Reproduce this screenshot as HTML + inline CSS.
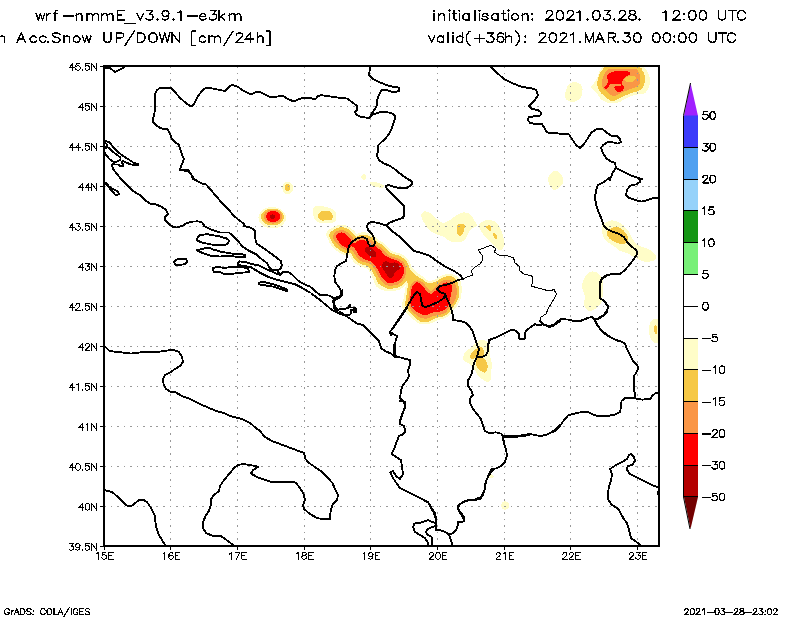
<!DOCTYPE html>
<html><head><meta charset="utf-8"><title>wrf-nmmE snow</title>
<style>
html,body{margin:0;padding:0;background:#fff;}
body{width:800px;height:618px;overflow:hidden;position:relative;font-family:"Liberation Sans",sans-serif;}
svg{position:absolute;left:0;top:0;display:block;}
text{font-family:"Liberation Sans",sans-serif;fill:#000;}
.bd{fill:none;stroke:#000;stroke-width:1.9;shape-rendering:crispEdges;stroke-linejoin:round;stroke-linecap:round;}
.th{fill:none;stroke:#000;stroke-width:1;shape-rendering:crispEdges;stroke-linejoin:round;}
.gr{stroke:#999;stroke-width:1;stroke-dasharray:1.6 4.96;fill:none;shape-rendering:crispEdges;}
</style></head><body>
<svg width="800" height="618" viewBox="0 0 800 618">
<title>wrf-nmmE_v3.9.1-e3km Acc.Snow UP/DOWN [cm/24h]</title>
<desc>wrf-nmmE_v3.9.1-e3km; Acc.Snow UP/DOWN [cm/24h]; initialisation: 2021.03.28. 12:00 UTC; valid(+36h): 2021.MAR.30 00:00 UTC; GrADS: COLA/IGES; 2021-03-28-23:02</desc>
<rect width="800" height="618" fill="#fff"/>
<defs><clipPath id="mc"><rect x="104" y="66" width="555" height="480"/></clipPath></defs>

<g clip-path="url(#mc)" shape-rendering="crispEdges">
<path d="M591.2,86.9 C591.3,85.4 593.2,84.2 594.4,82.5 C595.6,80.8 596.7,79.3 597.5,77.5 C598.3,75.7 598.1,74.1 598.8,72.5 C599.5,70.9 599.8,69.8 601.2,68.8 C602.6,67.8 599.1,67.2 606.2,66.9 C613.3,66.6 632.7,66.3 640,66.9 C647.3,67.5 644.5,68.3 646.2,70 C647.9,71.7 648.7,73.7 649.4,76.2 C650.1,78.7 650.1,81.3 649.8,83.8 C649.5,86.3 648.6,88.2 647.5,90 C646.4,91.8 645.6,93.0 643.8,93.8 C642.0,94.6 639.8,94.0 637.5,94.4 C635.2,94.8 633.5,95.4 631.2,96.2 C628.9,97.0 627.1,97.8 625,98.8 C622.9,99.8 622.1,101.1 620,101.9 C617.9,102.7 616.1,103.0 613.8,103.1 C611.5,103.2 609.8,103.2 607.5,102.5 C605.2,101.8 603.0,100.9 601.2,99.4 C599.4,97.9 598.9,96.0 597.5,94.4 C596.1,92.8 595.0,92.0 593.8,90.6 C592.6,89.2 591.1,88.4 591.2,86.9Z" fill="#fffdc8"/>
<path d="M597.2,85 C597.0,82.7 597.6,81.0 598.1,78.8 C598.6,76.6 599.1,74.9 600,73.1 C600.9,71.3 601.6,70.1 603.1,69 C604.6,67.9 601.8,67.4 608.1,67.1 C614.4,66.8 631.2,66.5 637.5,67.1 C643.8,67.7 641.2,68.9 642.5,70.6 C643.8,72.3 644.5,73.8 644.8,76.2 C645.1,78.6 644.9,81.5 644.4,83.8 C643.9,86.1 643.2,87.4 641.9,88.8 C640.6,90.2 639.5,90.4 637.5,91.2 C635.5,92.0 633.5,92.3 631.2,93.1 C628.9,93.9 627.3,94.6 625,95.6 C622.7,96.6 620.9,97.8 618.8,98.8 C616.7,99.8 615.5,100.8 613.8,101 C612.1,101.2 611.2,101.0 609.4,100 C607.6,99.0 605.6,97.2 603.8,95.6 C602.0,94.0 600.6,93.1 599.4,91.2 C598.2,89.3 597.4,87.3 597.2,85Z" fill="#f6c845"/>
<path d="M601.9,85 C601.8,83.3 602.1,80.7 602.5,78.8 C602.9,76.9 603.3,75.8 604.1,74.4 C604.9,73.0 605.7,72.0 606.9,71 C608.1,70.0 605.6,69.5 610.6,69.2 C615.6,68.9 629.4,68.8 634.4,69.2 C639.4,69.6 637.0,70.3 638.1,71.5 C639.2,72.7 639.9,73.9 640.2,76 C640.5,78.1 640.3,80.9 639.8,82.8 C639.3,84.7 638.7,85.5 637.5,86.5 C636.3,87.5 634.8,87.6 633.1,88.2 C631.5,88.8 630.3,89.1 628.5,89.8 C626.7,90.5 625.3,91.1 623.5,91.9 C621.7,92.7 620.2,93.6 618.5,94.4 C616.8,95.2 615.4,95.9 614,96 C612.6,96.1 612.0,95.9 610.6,95 C609.2,94.1 608.0,92.4 606.6,91.2 C605.2,90.0 604.0,89.3 603.1,88.2 C602.2,87.1 602.0,86.7 601.9,85Z" fill="#fa9646"/>
<path d="M606.9,76.2 C607.1,74.7 607.9,74.0 609.4,73.1 C610.9,72.2 612.6,71.7 615,71.2 C617.4,70.7 619.9,70.5 622.5,70.6 C625.1,70.7 628.0,71.2 629.4,71.9 C630.8,72.6 630.7,73.5 630,74.4 C629.3,75.3 626.9,75.9 625.6,76.9 C624.3,77.9 623.8,78.7 623.1,80 C622.4,81.3 621.8,82.5 621.9,83.8 C622.0,85.1 623.6,85.8 623.8,86.9 C624.0,88.0 623.8,89.1 623.1,90 C622.4,90.9 621.3,91.7 620,91.9 C618.7,92.1 617.2,91.9 616.2,91.2 C615.2,90.5 614.6,89.1 614.4,88.1 C614.2,87.1 613.9,86.5 615,86 C616.1,85.5 619.6,85.9 620.6,85.6 C621.6,85.3 622.5,84.6 620.6,84.4 C618.7,84.2 612.3,83.7 610,84.4 C607.7,85.1 609.2,87.4 608.1,88.1 C607.0,88.8 604.1,88.7 603.8,88.1 C603.5,87.5 605.4,86.3 606.2,85 C607.0,83.7 608.0,82.8 608.1,81.2 C608.2,79.6 606.7,77.7 606.9,76.2Z" fill="#ff0000"/>
<path d="M624.4,78.8 C624.8,78.1 625.5,77.5 626.9,76.9 C628.3,76.3 630.4,75.7 631.9,75.6 C633.4,75.5 634.2,75.7 635,76.2 C635.8,76.7 636.1,77.3 636,78.1 C635.9,78.9 635.4,79.8 634.4,80.6 C633.4,81.4 632.0,81.9 630.6,82.2 C629.2,82.5 628.0,82.5 626.9,82.2 C625.8,81.9 625.3,81.2 624.8,80.6 C624.3,80.0 624.0,79.5 624.4,78.8Z" fill="#f6c845"/>
<path d="M565,96.2 C564.9,94.4 565.5,92.2 566.2,90 C566.9,87.8 567.5,85.8 568.8,84.4 C570.1,83.0 571.3,82.4 573.1,82.2 C574.9,82.0 577.2,82.4 578.8,83.1 C580.4,83.8 581.2,84.5 581.9,86.2 C582.6,87.9 582.7,90.4 582.5,92.5 C582.3,94.6 581.8,95.9 580.6,97.5 C579.4,99.1 577.9,100.4 576.2,101.2 C574.5,102.0 572.9,102.1 571.2,101.9 C569.5,101.7 568.0,101.0 566.9,100 C565.8,99.0 565.1,98.0 565,96.2Z" fill="#fffdc8"/>
<path d="M293,188 C293.0,189.2 292.8,190.2 292.3,191.2 C291.8,192.2 291.2,192.9 290.4,193.5 C289.6,194.1 288.7,194.4 287.7,194.4 C286.7,194.4 285.9,194.1 285.1,193.5 C284.3,192.9 283.6,192.2 283.1,191.2 C282.6,190.2 282.4,189.2 282.4,188 C282.4,186.8 282.6,185.8 283.1,184.8 C283.6,183.8 284.3,183.1 285.1,182.5 C285.9,181.9 286.7,181.6 287.7,181.6 C288.7,181.6 289.6,181.9 290.4,182.5 C291.2,183.1 291.8,183.8 292.3,184.8 C292.8,185.8 293.0,186.8 293,188Z" fill="#fffdc8"/>
<path d="M290.4,187.3 C290.4,188.0 290.3,188.6 290,189.2 C289.7,189.8 289.4,190.2 288.9,190.5 C288.4,190.8 288.0,191.0 287.5,191 C287.0,191.0 286.6,190.8 286.1,190.5 C285.6,190.2 285.3,189.8 285,189.2 C284.7,188.6 284.6,188.0 284.6,187.3 C284.6,186.6 284.7,186.0 285,185.4 C285.3,184.8 285.6,184.4 286.1,184.1 C286.6,183.8 287.0,183.6 287.5,183.6 C288.0,183.6 288.4,183.8 288.9,184.1 C289.4,184.4 289.7,184.8 290,185.4 C290.3,186.0 290.4,186.6 290.4,187.3Z" fill="#f6c845"/>
<path d="M286,217.7 C286.0,219.7 285.5,221.4 284.2,223.1 C282.9,224.8 281.3,226.0 279.1,227 C276.9,228.0 274.7,228.4 272.2,228.4 C269.7,228.4 267.5,228.0 265.3,227 C263.1,226.0 261.5,224.8 260.2,223.1 C258.9,221.4 258.4,219.7 258.4,217.7 C258.4,215.7 258.9,214.0 260.2,212.3 C261.5,210.6 263.1,209.4 265.3,208.4 C267.5,207.4 269.7,207.0 272.2,207 C274.7,207.0 276.9,207.4 279.1,208.4 C281.3,209.4 282.9,210.6 284.2,212.3 C285.5,214.0 286.0,215.7 286,217.7Z" fill="#fffdc8"/>
<path d="M284,217 C284.0,218.5 283.6,219.9 282.5,221.2 C281.4,222.5 280.0,223.5 278.2,224.3 C276.4,225.1 274.6,225.4 272.5,225.4 C270.4,225.4 268.6,225.1 266.8,224.3 C265.0,223.5 263.6,222.5 262.5,221.2 C261.4,219.9 261.0,218.5 261,217 C261.0,215.5 261.4,214.1 262.5,212.8 C263.6,211.5 265.0,210.5 266.8,209.7 C268.6,208.9 270.4,208.6 272.5,208.6 C274.6,208.6 276.4,208.9 278.2,209.7 C280.0,210.5 281.4,211.5 282.5,212.8 C283.6,214.1 284.0,215.5 284,217Z" fill="#f6c845"/>
<path d="M282.4,216.6 C282.4,217.9 282.0,219.0 281.1,220.1 C280.2,221.2 279.2,222.1 277.7,222.7 C276.2,223.3 274.7,223.6 273,223.6 C271.3,223.6 269.8,223.3 268.3,222.7 C266.8,222.1 265.8,221.2 264.9,220.1 C264.0,219.0 263.6,217.9 263.6,216.6 C263.6,215.3 264.0,214.2 264.9,213.1 C265.8,212.0 266.8,211.1 268.3,210.5 C269.8,209.9 271.3,209.6 273,209.6 C274.7,209.6 276.2,209.9 277.7,210.5 C279.2,211.1 280.2,212.0 281.1,213.1 C282.0,214.2 282.4,215.3 282.4,216.6Z" fill="#fa9646"/>
<path d="M280.4,216.5 C280.4,217.5 280.1,218.3 279.4,219.2 C278.7,220.1 277.9,220.8 276.8,221.3 C275.7,221.8 274.5,222.0 273.2,222 C271.9,222.0 270.7,221.8 269.6,221.3 C268.5,220.8 267.7,220.1 267,219.2 C266.3,218.3 266.0,217.5 266,216.5 C266.0,215.5 266.3,214.7 267,213.8 C267.7,212.9 268.5,212.2 269.6,211.7 C270.7,211.2 271.9,211.0 273.2,211 C274.5,211.0 275.7,211.2 276.8,211.7 C277.9,212.2 278.7,212.9 279.4,213.8 C280.1,214.7 280.4,215.5 280.4,216.5Z" fill="#ff0000"/>
<path d="M275.2,216.8 C275.2,217.2 275.1,217.6 274.9,218 C274.7,218.4 274.3,218.7 273.9,218.9 C273.5,219.1 273.1,219.2 272.6,219.2 C272.1,219.2 271.7,219.1 271.3,218.9 C270.9,218.7 270.5,218.4 270.3,218 C270.1,217.6 270.0,217.2 270,216.8 C270.0,216.4 270.1,216.0 270.3,215.6 C270.5,215.2 270.9,214.9 271.3,214.7 C271.7,214.5 272.1,214.4 272.6,214.4 C273.1,214.4 273.5,214.5 273.9,214.7 C274.3,214.9 274.7,215.2 274.9,215.6 C275.1,216.0 275.2,216.4 275.2,216.8Z" fill="#b40000"/>
<path d="M313,213 C312.8,210.6 312.9,208.4 314,207 C315.1,205.6 316.4,205.5 319,205.6 C321.6,205.7 325.2,206.8 328,207.6 C330.8,208.4 332.5,208.5 334,210 C335.5,211.5 336.2,213.9 336.4,216 C336.6,218.1 336.4,220.3 335,221.6 C333.6,222.9 331.8,222.7 329,223 C326.2,223.3 322.6,223.6 320,223 C317.4,222.4 316.3,221.8 315,220 C313.7,218.2 313.2,215.4 313,213Z" fill="#fffdc8"/>
<path d="M318,216 C318.0,214.5 318.7,213.0 320,212 C321.3,211.0 323.2,210.7 325,210.6 C326.8,210.5 328.5,210.7 330,211.6 C331.5,212.5 332.7,214.1 333,215.6 C333.3,217.1 332.9,218.7 331.6,219.6 C330.3,220.5 328.1,220.3 326,220.4 C323.9,220.5 321.5,220.8 320,220 C318.5,219.2 318.0,217.5 318,216Z" fill="#f6c845"/>
<path d="M366.4,177 C366.4,177.5 366.3,177.9 366.1,178.3 C365.9,178.7 365.5,179.1 365.1,179.3 C364.7,179.5 364.3,179.6 363.8,179.6 C363.3,179.6 362.9,179.5 362.5,179.3 C362.1,179.1 361.7,178.7 361.5,178.3 C361.3,177.9 361.2,177.5 361.2,177 C361.2,176.5 361.3,176.1 361.5,175.7 C361.7,175.3 362.1,174.9 362.5,174.7 C362.9,174.5 363.3,174.4 363.8,174.4 C364.3,174.4 364.7,174.5 365.1,174.7 C365.5,174.9 365.9,175.3 366.1,175.7 C366.3,176.1 366.4,176.5 366.4,177Z" fill="#fffdc8"/>
<path d="M369.6,182.4 C369.7,181.7 371.5,181.5 373,181.6 C374.5,181.7 376.1,182.1 378,182.8 C379.9,183.5 382.8,184.3 383.6,185.2 C384.4,186.1 383.4,187.2 382.4,187.6 C381.4,188.0 379.8,187.6 378,187.2 C376.2,186.8 373.9,186.5 372.4,185.6 C370.9,184.7 369.5,183.1 369.6,182.4Z" fill="#fffdc8"/>
<path d="M328,239.1 L329.2,242.3 L331,245.1 L333.9,248.3 L337.3,251.2 L340.8,253.6 L343.9,255 L346.2,255.4 L349.4,255.3 L352.4,260.2 L354.3,262.5 L356.2,264.1 L360.2,266.4 L362.7,267.3 L366.2,268 L368.1,269.3 L371.2,274.3 L375.3,285 L376.8,286.9 L378.7,288.4 L382,290 L385.9,291 L388.6,291.1 L395.7,290.6 L398.6,289.9 L400.7,289 L403.3,287.4 L405.8,285 L403.7,298.8 L402,303 L401.8,305.2 L402.1,307 L404.3,311.1 L408,315 L416.9,322.3 L418.8,323.6 L421.3,324.3 L423.3,324.5 L427.5,324.2 L432.1,322.8 L438.1,319.9 L444.2,318.4 L447,317.3 L448.6,316.3 L450.4,314.6 L452.2,311.7 L456.3,307 L458.7,303.1 L460.5,299.1 L461.3,296.1 L461.7,289.6 L461.5,285.6 L460.4,280.7 L459.5,278.7 L458,277 L454.3,274.8 L450.3,273.7 L446.8,274 L441,275.9 L435.2,279.4 L433,280.3 L430.3,280.9 L427.7,280.5 L422,276 L417,272.8 L415.1,271.1 L411.4,266.5 L410.4,263.4 L408.7,260.5 L406.1,257.4 L403.7,255.5 L400.1,253.6 L394.3,251.9 L391.1,250.4 L384.1,243.4 L382.1,241.9 L378.9,240.2 L376,237.1 L373.1,235.1 L367.5,232.8 L364.7,232.2 L360.5,232.5 L356.5,233.9 L354,230.9 L351.1,228.3 L348.6,226.7 L345.8,225.5 L341.5,225 L336.7,225.6 L334,226.6 L329,229.7 L326.7,232.1 L326,234 L326.4,236Z" fill="#fffdc8"/>
<path d="M330.2,238.1 L331,240.6 L332.8,243.7 L335.5,246.7 L338.6,249.3 L341.9,251.6 L344.6,252.8 L346.3,253.1 L349.3,253 L350.8,253.2 L354.2,258.8 L357.6,262.3 L361.1,264.3 L367,265.9 L369.3,267.3 L371.1,269.3 L372.8,272.2 L376.2,278.8 L377.4,282.1 L378.7,283.8 L381,285.7 L385.1,287.8 L387.4,288.5 L390,288.7 L395.6,288.3 L398.3,287.6 L401.7,285.7 L403.9,283.8 L406.2,280.9 L408.5,284.5 L407.4,288.7 L405.9,299.4 L405,302 L404.9,303.9 L405.3,305.4 L406.5,307.9 L410.3,313 L415.6,317.6 L418.1,320.2 L420,321.4 L423.4,322.2 L425.7,322.2 L428.2,321.7 L430.6,320.8 L436,317.9 L442.6,316.5 L446,315.3 L448.6,313.1 L450.4,310.3 L454.4,305.6 L456.6,302.1 L458.3,298.3 L459,295.8 L459.3,291.7 L459.1,288.6 L457.2,280.8 L456,279 L453.4,276.9 L450,276 L447.4,276.2 L442,278 L436.2,281.5 L432.6,282.8 L429.2,283.2 L426.8,282.6 L423,279.8 L416.2,275.7 L413,273 L409.3,267.9 L408.7,265.3 L407,262 L404.5,259 L402.5,257.5 L398.3,255.3 L393.5,254.1 L389.9,252.4 L388.3,251.1 L382.6,245.1 L377.4,242 L374.5,238.9 L372.1,237.2 L366.8,235 L363.6,234.5 L361.7,234.6 L359.1,235.2 L356.1,237 L351.3,231.5 L348.6,229.4 L345.4,227.8 L342.8,227.3 L340.2,227.3 L337.1,227.9 L334.2,229.2 L330.5,232.2 L329.5,233.6 L329,235.7Z" fill="#f6c845"/>
<path d="M333.1,236.2 C333.2,234.8 333.8,233.5 334.8,232.5 C335.8,231.5 337.0,230.9 338.8,230.6 C340.6,230.3 342.5,230.0 344.4,230.6 C346.3,231.2 347.8,232.4 349.4,233.8 C351.0,235.2 352.0,236.9 353.1,238.1 C354.2,239.3 354.3,240.6 355.6,240.6 C356.9,240.6 358.4,238.7 360,238.1 C361.6,237.5 362.9,237.4 364.4,237.5 C365.9,237.6 366.7,238.2 368.1,238.8 C369.5,239.4 370.5,239.6 371.9,240.6 C373.3,241.6 374.1,243.2 375.6,244.4 C377.1,245.6 378.5,245.8 380,246.9 C381.5,248.0 382.4,249.2 383.8,250.6 C385.2,252.0 385.9,253.2 387.5,254.4 C389.1,255.6 390.6,256.1 392.5,256.9 C394.4,257.7 396.2,257.6 398.1,258.5 C400.0,259.4 401.6,260.2 403.1,261.9 C404.6,263.5 405.7,265.3 406.2,267.5 C406.7,269.7 406.6,271.5 406,273.8 C405.4,276.1 404.5,278.1 403.1,280 C401.7,281.9 400.2,283.4 398.1,284.4 C396.0,285.4 394.1,285.5 391.9,285.6 C389.7,285.7 388.2,285.9 386.2,285 C384.2,284.1 382.8,282.4 381.2,280.6 C379.6,278.8 378.6,276.9 377.5,275 C376.4,273.1 376.0,271.7 375,270 C374.0,268.3 373.2,266.9 371.9,265.6 C370.6,264.3 369.7,263.8 368.1,263.1 C366.5,262.4 364.8,262.6 363.1,261.9 C361.4,261.2 360.2,260.6 358.8,259.4 C357.4,258.2 356.6,257.1 355.6,255.6 C354.6,254.1 354.1,252.2 353.1,251.2 C352.1,250.2 351.4,250.2 350,250 C348.6,249.8 347.2,250.5 345.6,250 C344.0,249.5 342.8,248.6 341.2,247.5 C339.6,246.4 338.2,245.2 336.9,243.8 C335.6,242.4 334.7,241.4 334,240 C333.3,238.6 333.0,237.6 333.1,236.2Z" fill="#fa9646"/>
<path d="M408.3,302 C408.1,299.2 408.8,296.3 409.2,293.3 C409.6,290.3 409.7,287.7 410.7,285.5 C411.7,283.3 413.0,282.1 414.6,281.2 C416.2,280.3 417.7,280.3 419.4,280.7 C421.1,281.1 422.4,282.3 423.8,283.6 C425.2,284.9 426.0,286.7 427.2,288 C428.4,289.3 429.4,290.7 430.6,290.9 C431.8,291.1 432.7,290.1 434,288.9 C435.3,287.7 436.3,286.1 437.9,284.6 C439.5,283.1 440.8,281.6 442.7,280.7 C444.6,279.8 446.5,279.5 448.5,279.7 C450.5,279.9 452.0,280.5 453.4,281.7 C454.8,282.9 455.7,284.2 456.3,286.5 C456.9,288.8 457.1,291.8 456.8,294.3 C456.5,296.8 455.8,298.1 454.9,300.1 C454.0,302.1 453.1,303.4 451.9,305 C450.7,306.6 449.7,307.4 448.5,308.8 C447.3,310.2 447.2,311.6 445.6,312.7 C444.0,313.8 442.1,314.1 439.8,314.7 C437.5,315.3 435.4,315.4 433,316.1 C430.6,316.8 429.0,318.2 426.7,318.5 C424.4,318.8 422.6,318.5 420.4,317.6 C418.2,316.7 416.5,315.3 414.6,313.7 C412.7,312.1 411.4,310.9 410.2,308.8 C409.0,306.7 408.5,304.8 408.3,302Z" fill="#fa9646"/>
<path d="M336.2,236.2 C336.2,235.1 336.7,234.5 337.5,233.8 C338.3,233.1 339.3,232.6 340.6,232.5 C341.9,232.4 343.1,232.5 344.4,233.1 C345.7,233.7 346.4,234.4 347.5,235.6 C348.6,236.8 349.7,238.0 350.6,239.4 C351.5,240.8 351.6,242.5 352.5,243.1 C353.4,243.7 354.4,243.0 355.6,242.5 C356.8,242.0 357.4,241.1 358.8,240.6 C360.2,240.1 361.6,239.9 363.1,240 C364.6,240.1 365.6,240.4 366.9,241.2 C368.2,242.0 368.5,243.5 370,244.4 C371.5,245.3 373.4,245.4 375,246.2 C376.6,247.0 377.4,247.6 378.8,248.8 C380.2,250.0 381.1,251.1 382.5,252.5 C383.9,253.9 384.5,255.0 386.2,256.2 C387.9,257.4 389.8,258.0 391.9,258.8 C394.0,259.6 395.7,259.7 397.5,260.6 C399.3,261.5 400.7,262.3 401.9,263.8 C403.1,265.3 403.7,267.0 404,268.8 C404.3,270.6 404.1,272.0 403.5,273.8 C402.9,275.6 401.9,277.3 400.6,278.8 C399.3,280.3 397.9,281.1 396.2,281.9 C394.5,282.7 392.9,283.0 391.2,283.1 C389.5,283.2 388.4,283.3 386.9,282.5 C385.4,281.7 384.4,280.3 383.1,278.8 C381.8,277.3 381.0,276.1 380,274.4 C379.0,272.7 378.5,271.2 377.5,269.4 C376.5,267.6 375.8,265.9 374.4,264.4 C373.0,262.9 371.7,262.1 370,261.2 C368.3,260.3 366.7,260.2 365,259.4 C363.3,258.6 362.0,258.1 360.6,256.9 C359.2,255.7 358.5,254.6 357.5,253.1 C356.5,251.6 356.0,250.1 355,248.8 C354.0,247.5 353.2,246.3 351.9,246.2 C350.6,246.1 349.5,248.0 348.1,248.1 C346.7,248.2 345.8,247.7 344.4,246.9 C343.0,246.1 341.9,245.1 340.6,243.8 C339.3,242.5 338.3,241.4 337.5,240 C336.7,238.6 336.2,237.3 336.2,236.2Z" fill="#ff0000"/>
<path d="M410.2,302 C410.0,299.6 410.4,297.1 410.7,294.3 C411.0,291.5 411.1,288.6 412.1,286.5 C413.1,284.4 414.7,283.2 416,282.6 C417.3,282.0 418.2,282.5 419.4,283.1 C420.6,283.7 421.6,284.7 422.8,286 C424.0,287.3 424.9,289.0 426.2,290.4 C427.5,291.8 428.8,293.5 430.1,293.8 C431.4,294.1 432.2,293.2 433.5,292.3 C434.8,291.4 436.1,290.2 437.4,288.9 C438.7,287.6 439.3,286.2 440.8,285 C442.3,283.8 444.0,282.9 445.6,282.6 C447.2,282.3 448.3,282.5 449.5,283.1 C450.7,283.7 451.5,284.3 451.9,286 C452.3,287.7 451.8,289.9 451.5,292.3 C451.2,294.7 450.6,296.6 450,299.1 C449.4,301.6 449.1,303.9 448.1,305.9 C447.1,307.9 446.4,308.7 444.7,309.8 C443.0,310.9 441.1,311.2 438.8,311.7 C436.5,312.2 434.3,312.1 432,312.7 C429.7,313.3 428.2,314.8 426.2,315.1 C424.2,315.4 422.9,315.0 420.9,314.2 C418.9,313.4 417.2,312.0 415.5,310.8 C413.8,309.6 412.7,309.0 411.7,307.4 C410.7,305.8 410.4,304.4 410.2,302Z" fill="#ff0000"/>
<path d="M365.6,248.1 C366.1,247.3 367.1,246.9 368.1,246.9 C369.1,246.9 370.2,247.4 371.2,248.1 C372.2,248.8 372.9,249.7 373.8,250.6 C374.7,251.5 375.8,252.1 376.2,253.1 C376.6,254.1 376.6,255.4 376.2,256.2 C375.8,257.0 374.8,257.5 373.8,257.5 C372.8,257.5 371.8,256.8 370.6,256.2 C369.4,255.6 368.5,255.3 367.5,254.4 C366.5,253.5 365.5,252.4 365.2,251.2 C364.9,250.0 365.1,248.9 365.6,248.1Z" fill="#b40000"/>
<path d="M382.5,263.8 C383.0,262.8 384.0,261.5 385,261.2 C386.0,260.9 387.0,261.6 388.1,261.9 C389.2,262.2 389.9,263.0 391.2,263.1 C392.5,263.2 393.6,262.3 395,262.5 C396.4,262.7 397.9,263.5 398.8,264.4 C399.7,265.3 400.1,266.5 400,267.5 C399.9,268.5 399.0,269.2 398.1,270 C397.2,270.8 395.8,271.0 395,271.9 C394.2,272.8 394.4,273.9 393.8,275 C393.2,276.1 392.8,277.6 391.9,278.1 C391.0,278.6 389.8,278.3 388.8,277.5 C387.8,276.7 387.1,275.2 386.2,273.8 C385.3,272.4 384.5,271.3 383.8,270 C383.1,268.7 382.4,268.0 382.2,266.9 C382.0,265.8 382.0,264.8 382.5,263.8Z" fill="#b40000"/>
<path d="M421,216 C420.8,213.7 422.4,212.2 424,211.6 C425.6,211.0 427.6,211.6 430,213 C432.4,214.4 434.6,217.2 437,219 C439.4,220.8 440.6,222.8 443,223 C445.4,223.2 447.4,221.5 450,220 C452.6,218.5 454.6,216.4 457,215 C459.4,213.6 460.6,212.6 463,212.4 C465.4,212.2 468.0,212.6 470,214 C472.0,215.4 472.7,218.0 474,220 C475.3,222.0 477.2,223.5 477,225 C476.8,226.5 474.5,226.7 473,228 C471.5,229.3 470.3,230.2 469,232 C467.7,233.8 467.3,236.2 466,238 C464.7,239.8 464.6,240.9 462,241.6 C459.4,242.3 455.3,242.8 452,242 C448.7,241.2 446.9,238.5 444,237 C441.1,235.5 438.8,235.3 436,234 C433.2,232.7 431.0,231.8 429,230 C427.0,228.2 426.5,226.6 425,224 C423.5,221.4 421.2,218.3 421,216Z" fill="#fffdc8"/>
<path d="M457,226 C457.6,224.5 458.6,224.3 460,224 C461.4,223.7 463.6,223.5 464.4,224.4 C465.2,225.3 464.8,227.2 464.4,229 C464.0,230.8 463.4,232.7 462.4,234 C461.4,235.3 460.0,236.4 459,236 C458.0,235.6 457.4,233.8 457,232 C456.6,230.2 456.4,227.5 457,226Z" fill="#f6c845"/>
<path d="M479,225 C479.7,223.5 482.0,221.9 484,221 C486.0,220.1 487.6,219.6 490,220 C492.4,220.4 495.0,221.2 497,223 C499.0,224.8 499.8,227.2 501,230 C502.2,232.8 503.1,235.1 503.6,238 C504.2,240.9 504.5,243.8 504,246 C503.5,248.2 502.3,249.4 501,250 C499.7,250.6 498.5,250.1 497,249 C495.5,247.9 494.6,245.7 493,244 C491.4,242.3 489.8,241.8 488,240 C486.2,238.2 484.5,236.0 483,234 C481.5,232.0 480.7,230.7 480,229 C479.3,227.3 478.3,226.5 479,225Z" fill="#fffdc8"/>
<path d="M486,227 C486.2,226.2 488.1,225.0 489,225 C489.9,225.0 490.6,225.9 491,227 C491.4,228.1 491.6,230.5 491,231 C490.4,231.5 488.9,230.3 488,229.6 C487.1,228.9 485.8,227.8 486,227Z" fill="#f6c845"/>
<path d="M493,234 C493.1,233.1 494.3,232.6 495,233 C495.7,233.4 496.6,234.9 497,236 C497.4,237.1 497.5,238.6 497,239 C496.5,239.4 495.1,238.9 494.4,238 C493.7,237.1 492.9,234.9 493,234Z" fill="#f6c845"/>
<path d="M548,178 C548.2,175.6 549.5,174.3 551,173 C552.5,171.7 554.4,171.0 556,171 C557.6,171.0 558.7,171.7 560,173 C561.3,174.3 562.6,176.0 563,178 C563.4,180.0 563.1,182.2 562.4,184 C561.7,185.8 560.5,186.5 559,187.6 C557.5,188.7 555.6,190.3 554,190 C552.4,189.7 551.1,188.2 550,186 C548.9,183.8 547.8,180.4 548,178Z" fill="#fffdc8"/>
<path d="M601.6,228 C601.8,225.2 603.1,224.4 605,223 C606.9,221.6 609.2,220.4 612,220.4 C614.8,220.4 617.4,221.6 620,223 C622.6,224.4 624.2,226.0 626,228 C627.8,230.0 628.5,231.6 630,234 C631.5,236.4 632.2,238.8 634,241 C635.8,243.2 637.4,244.5 640,246 C642.6,247.5 645.2,247.5 648,249 C650.8,250.5 653.5,252.2 655,254 C656.5,255.8 656.9,257.6 656,259 C655.1,260.4 652.6,261.2 650,261.6 C647.4,262.0 644.9,261.8 642,261 C639.1,260.2 636.8,258.5 634,257 C631.2,255.5 629.6,254.1 627,253 C624.4,251.9 622.2,252.1 620,251 C617.8,249.9 617.0,248.5 615,247 C613.0,245.5 611.0,244.7 609,243 C607.0,241.3 605.4,240.8 604,238 C602.6,235.2 601.4,230.8 601.6,228Z" fill="#fffdc8"/>
<path d="M606.4,234 C606.2,232.3 607.6,231.3 609,230 C610.4,228.7 612.0,227.4 614,227 C616.0,226.6 618.0,227.1 620,228 C622.0,228.9 623.5,230.2 625,232 C626.5,233.8 628.0,236.1 628.4,238 C628.8,239.9 628.2,241.3 627,242.4 C625.8,243.5 624.0,244.0 622,244 C620.0,244.0 618.2,243.3 616,242.4 C613.8,241.5 611.8,240.5 610,239 C608.2,237.5 606.6,235.7 606.4,234Z" fill="#f6c845"/>
<path d="M582,288 C581.8,284.9 582.9,281.8 584,279 C585.1,276.2 586.2,274.4 588,273 C589.8,271.6 591.8,271.2 594,271.6 C596.2,272.0 598.4,273.0 600,275 C601.6,277.0 602.6,278.2 603,282.4 C603.4,286.6 603.1,293.7 602.4,298 C601.7,302.3 600.9,303.7 599,306 C597.1,308.3 594.2,309.7 592,310.4 C589.8,311.1 588.5,311.2 587,310 C585.5,308.8 584.4,306.6 584,304 C583.6,301.4 585.4,298.9 585,296 C584.6,293.1 582.2,291.1 582,288Z" fill="#fffdc8"/>
<path d="M649,329 C649.0,326.4 649.1,324.8 650,323 C650.9,321.2 652.4,319.6 654,319 C655.6,318.4 657.5,319.1 659,320 C660.5,320.9 661.5,320.3 662,324 C662.5,327.7 662.5,336.6 662,340 C661.5,343.4 660.5,342.0 659,342.4 C657.5,342.8 655.6,343.4 654,342.4 C652.4,341.4 650.9,339.5 650,337 C649.1,334.5 649.0,331.6 649,329Z" fill="#fffdc8"/>
<path d="M654.4,326.4 C654.7,324.9 655.9,324.9 656.4,325.6 C656.9,326.3 657.1,328.5 657.2,330 C657.3,331.5 657.2,333.3 656.8,334 C656.4,334.7 655.2,335.0 654.8,333.6 C654.4,332.2 654.1,327.9 654.4,326.4Z" fill="#f6c845"/>
<path d="M463,357 C463.4,355.2 464.4,352.8 466,351 C467.6,349.2 470.0,348.6 472,347 C474.0,345.4 475.2,343.3 477,342 C478.8,340.7 480.0,340.0 482,340 C484.0,340.0 486.5,340.5 488,342 C489.5,343.5 489.6,345.4 490,348 C490.4,350.6 489.6,353.1 490,356 C490.4,358.9 491.8,361.1 492,364 C492.2,366.9 491.2,369.2 491,372 C490.8,374.8 491.6,377.2 491,379 C490.4,380.8 489.6,382.0 488,382 C486.4,382.0 484.0,380.5 482,379 C480.0,377.5 478.6,376.2 477,374 C475.4,371.8 474.6,369.0 473,367 C471.4,365.0 469.6,364.1 468,363 C466.4,361.9 464.9,362.1 464,361 C463.1,359.9 462.6,358.8 463,357Z" fill="#fffdc8"/>
<path d="M470.2,356.3 C470.4,355.3 470.7,354.1 471.5,352.9 C472.3,351.7 473.2,350.9 474.4,350 C475.6,349.1 476.6,348.3 477.8,347.8 C479.0,347.3 480.2,346.8 481.2,347.2 C482.2,347.6 482.9,348.8 483.4,350 C483.9,351.2 484.0,352.6 484,354 C484.0,355.4 483.1,356.3 483.4,357.4 C483.7,358.5 484.9,358.8 485.7,360.2 C486.5,361.6 487.3,363.2 487.6,364.8 C487.9,366.4 487.9,367.3 487.4,368.7 C486.9,370.1 486.0,372.2 485.1,372.7 C484.2,373.2 483.4,372.1 482.3,371.6 C481.2,371.1 479.9,370.8 478.9,369.9 C477.9,369.0 477.2,368.0 476.6,366.5 C476.0,365.0 476.0,363.5 475.8,361.9 C475.6,360.3 476.1,358.5 475.5,358 C474.9,357.5 473.6,359.0 472.7,359.1 C471.8,359.2 471.1,359.0 470.6,358.5 C470.1,358.0 470.0,357.3 470.2,356.3Z" fill="#f6c845"/>
<path d="M509.4,505.5 C509.4,506.3 509.2,506.9 508.8,507.6 C508.4,508.3 508.0,508.7 507.3,509.1 C506.6,509.5 506.0,509.6 505.2,509.6 C504.4,509.6 503.8,509.5 503.1,509.1 C502.4,508.7 502.0,508.3 501.6,507.6 C501.2,506.9 501.0,506.3 501,505.5 C501.0,504.7 501.2,504.1 501.6,503.4 C502.0,502.7 502.4,502.3 503.1,501.9 C503.8,501.5 504.4,501.4 505.2,501.4 C506.0,501.4 506.6,501.5 507.3,501.9 C508.0,502.3 508.4,502.7 508.8,503.4 C509.2,504.1 509.4,504.7 509.4,505.5Z" fill="#fffdc8"/>
<path d="M493.6,476.4 C493.6,476.8 493.5,477.1 493.2,477.4 C492.9,477.7 492.6,477.9 492.2,478.1 C491.8,478.3 491.3,478.4 490.8,478.4 C490.3,478.4 489.8,478.3 489.4,478.1 C489.0,477.9 488.7,477.7 488.4,477.4 C488.1,477.1 488.0,476.8 488,476.4 C488.0,476.0 488.1,475.7 488.4,475.4 C488.7,475.1 489.0,474.9 489.4,474.7 C489.8,474.5 490.3,474.4 490.8,474.4 C491.3,474.4 491.8,474.5 492.2,474.7 C492.6,474.9 492.9,475.1 493.2,475.4 C493.5,475.7 493.6,476.0 493.6,476.4Z" fill="#fffdc8"/>
</g>
<g class="gr">
<line x1="170.5" y1="66" x2="170.5" y2="546"/>
<line x1="237.5" y1="66" x2="237.5" y2="546"/>
<line x1="304.5" y1="66" x2="304.5" y2="546"/>
<line x1="370.5" y1="66" x2="370.5" y2="546"/>
<line x1="437.5" y1="66" x2="437.5" y2="546"/>
<line x1="504.5" y1="66" x2="504.5" y2="546"/>
<line x1="570.5" y1="66" x2="570.5" y2="546"/>
<line x1="637.5" y1="66" x2="637.5" y2="546"/>
<line x1="104" y1="106.5" x2="659" y2="106.5"/>
<line x1="104" y1="146.5" x2="659" y2="146.5"/>
<line x1="104" y1="186.5" x2="659" y2="186.5"/>
<line x1="104" y1="226.5" x2="659" y2="226.5"/>
<line x1="104" y1="266.5" x2="659" y2="266.5"/>
<line x1="104" y1="306.5" x2="659" y2="306.5"/>
<line x1="104" y1="346.5" x2="659" y2="346.5"/>
<line x1="104" y1="386.5" x2="659" y2="386.5"/>
<line x1="104" y1="426.5" x2="659" y2="426.5"/>
<line x1="104" y1="466.5" x2="659" y2="466.5"/>
<line x1="104" y1="506.5" x2="659" y2="506.5"/>
</g>
<g clip-path="url(#mc)">
<path class="bd" d="M104.4,67.6 L110,68 L115,72 L120,69.4 L123.6,67.6 M260,92 L257,91.6 L253,93.6 L249,93.6 L243,90.4 L238,87 L232,84.6 L228,88 L225,91 L220,90 L213,88.6 L206,87.6 L202,91 L198,96 L195,102 L193,105.6 L190,106 L186,103 L180,98 L175,92 L171,88 L166,87.6 L160,88 L157,90 L155,94 L155,100 L155,108 L154.4,114 L153,119 L153,122 L156,125 L160,128 L164,129 L167.6,129.4 L169.6,133 L172,139 L175,142 L179,145 L180.6,150 L182.4,156 L184,159 L182,164 L180,169.6 L184,169.6 L188,170 L191,174 L194,179 L196,180 M104.5,140.5 L109.5,142.5 L115,149 L121,154.5 L128,159 L134,163 L138.5,164.5 L138,165.2 L131,164.5 L126,162.5 L122.5,161 L121.5,162.5 L123.5,164.5 L123.2,166 L120,166 L118.5,164.5 L115,164.5 L112.5,164 L111.8,165.5 L113.5,169.5 L117,174 L121,179 L126,184 L132,190 M104.5,148 L107,146.5 L110,149 L115,153.5 L120.5,157.5 L120.5,159.5 L118.5,161 L115,162 L112.5,161.5 L109.5,159 L106,155 L104.5,152.5 M104.5,142.5 L106.5,144 L107.5,146.5 L106,148 M104.4,182 L108,186 L111,190 L116,195.6 L119,194 L118,191.6 L113,189 L109,186.4 L106,183 Z M132,190 L136,193 L140,195 L145,200 L150,203.6 L156,204.4 L162,207 L166,210 L168,214.4 L165,217 L165,220 L169,224 L173,227 L177,227.6 L182,226 L187,223 L192,221.6 L198,221.4 L202,222.4 L204,225 M180,170 L188,171 L191,174 L193,179 L198,181.6 L202,183.6 L206,184.4 L210,189 L216,196 L222,203 L228,209 L234,216 L240,221 L244.4,224 L244.4,225.8 M174,262 L177,259.4 L182,258.6 L186.4,259.4 L187.4,261.6 L185,264 L180,265 L175.6,265 Z M203.5,225.8 L211,229.5 L220,232.5 L229,232.5 L233.5,236.2 L238,240.8 L241.8,246 L248.5,250.5 L256,254.2 L262,259.5 L267.2,263.2 L268.8,267 L272.5,270 L277,270.3 M244,225.8 L251.5,228 L255.2,231 L255.2,238.5 L256.8,243.8 L263.5,248.2 L271,253.5 L277,258 L280.8,261 L281.8,265.5 L280.8,268.5 L277,270.3 L280,274.5 L283,272.2 L287.5,271.5 L292,274.5 L298,280.5 L304,284.2 L310,286.5 M280,274.8 L277,273.8 L271.8,271.5 L265,268.5 L259,265.5 L253,264.3 L247,262.5 L239.5,261.4 L238,262.5 L238,264.8 L244,266.2 L250,266.7 L253,268.5 L260.5,273 L268,276.8 L277,279.8 L286,282 L295,284.2 L301,287.2 L310,292.5 M196.8,239.2 L199.8,234.8 L208,234.3 L218.5,236.2 L226.8,238.5 L229.3,240.8 L226.8,244.5 L220,245.2 L211,244.5 L202.8,242.7 L197.5,240.8 Z M196.8,250.2 L202,249 L208,247.5 L214,249.8 L222.2,252 L231.2,253.5 L241,254.2 L245.5,255 L244.8,257.2 L236.5,256.8 L229,255.8 L220,256.5 L211,255.8 L203.5,253.5 Z M212.5,268.5 L216.2,267 L224.5,267.8 L232,267 L241,266.7 L247.8,268.5 L249.2,272.2 L241,272.7 L232,273.8 L225.2,274.2 L220,272.2 L214,272.2 Z M258.7,283.5 L261.2,281.7 L268,282.8 L275.5,285 L283,287.7 L287.5,289.8 L286.8,291 L280,288.8 L272.5,286.5 L265,285.3 L260.5,284.7 Z M260,92 L265,94.4 L270,97 L276,96.6 L283,96 L288,99 L294,101.6 L299,99 L305,97.6 L310,98 L315,99.6 L318,96 L321,95.2 L327,96 L334,97 L341,98 L347,98.6 L352,102 L357,106 L357,110 L355,112.4 L357,115 L361,117 L366,117.6 L370,117.6 L371.2,115.2 M370,67 L369.6,71 L369,75 L373,79 L380,82.4 L388,85.6 L394,87 L399,87.6 L399,91 L396,92 L391,91.6 L386,89.6 L382,89.6 L379,95 L377,100 L377,105 L375,109 L372,113 L371.2,115.2 L376,113.6 L382,111.6 L388,112.4 L393,113.6 L395.6,117 L394,122 L392,128 L389,134 L385,139 L381,142.4 L378.4,145 L378,150 L377,156 L379,160 L383,163 L390,166 L396,170 L402,175 L408,179 L410,180 M491,67 L496,72 L504,79 L512,83 L522,87 L530,88 L536,90 L538,95 L535,100 L531,104 L529,106.4 L532,109 L538,110 L541.6,113 L540,115.6 L534,116.4 L529,117 L528,120 L530,123 L536,124 L542,124 L544.4,128 L547,132.4 L552,133 L560,133.6 M560,133.6 L569,134.4 L572,139 L576,145 L580,148 L584,144 L588,138 L591,133 L595,130 L599,128.6 L603,129.6 L607,133 L611,135.6 L617,136 L620,139 L621,142 L618,143.6 L613,142.4 L608,142 L603,145 L601,148 L603,153 L606,158 L610,161 L615,163 L616,168 L620,170 L626,173 L632,176 L638,178 L642,179 M616,168 L613,172 L611,177 L610,180 M404,215 L403,218 L396,220 L389,223 L386.6,225.6 L392,231 L400,237 L408,245 L414,251 L422,253 L430,256 L438,262 L446,267 L454,271 L460,275 L463,279 M386.6,225.6 L380,223.4 L373,222 L369,222.6 L367,226 L368,230 L372,234 L374,238 L375,243 L373.6,246 L370,246 L368,243 L367,239 L363,237 L358,238 L353,241 L349.6,245 L348,250 L347,256 L346,261 L342,263 L337,266 L335,270 L334.4,276 L335,282 L339,287 L341.6,292 L340,296 L335,298 L333,301 L334,305 L337,309 M463,279 L458,280 L452,283 L445,285 L440,286 L437,289 L440,292 L445,294 L444,298 L438,302 L431,305 L425,307.4 L422,305 L421,299 L420,294 L417,292 L414,295 L411,300 L408,305 L404,311 L399,319 L394,326 L390,332 L391,335 M445,294 L447,299 L450,305 L452,311 L453,317 L453.6,320 M393.8,168.3 L399.4,173.2 L405.9,178 L412.4,182.1 L411.6,184.5 L407.5,187.7 L401,188.5 L394.6,186.9 L388.1,185 L385.7,186.1 L387.3,189.4 L392.9,195 L399.4,201.5 L403.9,205.5 L404.3,212.8 L403.9,216.1 M543,324 L539,325.6 L535,324 L530,327.6 L526,331 L525,334 L525,338.6 L519,338.6 L519,334 L516,331 L512,329.6 L507,332 L501,335 L495,338 L490,339.6 L488,344 L488,350 M543,324 L549,327 L553,326 L557,322 L561,319 L568,319.6 L574,321 L578,321.6 L584,319.6 L589,317.6 L592.4,317 L594.4,320 M620,274 L614,274 L607,275 L602,278 L600,282.4 L600,290 L600.4,298 L605,302 L608,307 L607,312 L603,316 L598,319 L594.4,320 L597,325 L601,330 L606,334 L612,338 L618,341 L620,341.6 M610,180 L609,178 L604,182 L598,185 L596,190 L595,198 L596.4,206 L599,213 L602,220 L604,226 L607,229 L613,232 L619,234 L624,237 L627,242 L632,247 L636.4,250 L637,254 L634,259 L630,264 L625,270 L620,274 L612,274 L606,276 L601,279.6 L600.4,284 L600,290 L600,298 M638,178 L640,180 L640,182 L636,184.4 L630,185.6 L627,190 L626,195 L629,198 L635,200 L642,201.6 L648,200 L654,198 L659,197.6 M600,298 L605,302 L608,306 L607,311 L603,315.6 L598,318.4 L594.4,319.6 M561,319 L568,319.6 L576,321.6 L582,320.6 L587,318 L592,317 L594.4,319.6 L598,326 L602,331.6 L608,336 L615,339.6 L621,341.6 L625,343.6 L627,349 L630,355 L633,361 L637,365 L638.4,368 L636,373 L634,376 L634,384 L634.4,392 L635.6,398 M634,384 L634.4,390 L635,396 L635.6,398.4 L642,399.6 L650,399 L653,395 L656,393 L659,392.4 M635.6,398.4 L630,398 L625,398 L621.6,401 L621,407 L620,412 L614,415 L606,416 L596,415.6 L591,413.6 L587,411.6 L580,412.4 L573,414 L568,415.6 L564,420 L560,426 L555,431 L550,433 M659,496 L658,494 L659,487.6 L652,485 L644,481 L636,477 L630,474 L627,470 L627.6,466.4 L632,465 L635,461 L634,457 L631,454 L629,455 L627,459 L622,462 L616,465 L610,469 L612,474 L611,481 L609,487 L607.6,494 L608.4,500 L612,505 L617,508 L619,510 L623.6,518.6 L627.2,523.6 L628.8,529.4 L631,538.2 L635.2,541 L640.4,545 M453,320 L460,321 L466,323 L470,327 L473,332 L475,338 L477,345 L479,349 L478,353 L477,357 M560,321 L556,324 L550,326 L544,325 L540,321 M489,340 L488.4,345 L488,351 L486,355 L482,357 L477,357 L475,361 L473,367 L472,373 L470,377 L467.6,381 L468,386 L471,390 L473,395 L470,398.4 L470,403 L473,409 L477,414 L481,419 L483,425 L485,431 L489,433 L496,432.4 L501,433.6 L503,436 L503,440 M503,436 L512,436 L520,435.6 L530,434 L540,436 L546,435 L552,432 L558,427 L560,425 M312,294 L320,300 L326,305 L332,310 L338,313 L346,316 L352,320 L357,323.6 L363,325 L368,330 L374,336 L379,341 L381,348 L385,351 L391,353.6 L395,357 M407,308 L403,314 L398,321 L393,328 L390,331.6 L393,334 L397,336 L395.6,341 L394,348 L393.6,354 L395,357 M395,343 L395.6,356 M394.4,344 L394.8,356 M395,357 L401,357.6 L406,359 L410,360 L409.6,366 L408,371 L409,376 L407,380 L403,385 L401,391 L400,398 L404,402 L405,406 L403,413 L400,420 M338.1,310 L341.2,308.8 L345,308.8 L348.1,308.1 L349.4,305 L350,304.4 L350.2,307.5 L353.1,307.5 L355.6,308.1 L355.6,312.5 L353.8,312.5 L353.8,309.4 L350.6,310 L350.6,313.8 L349.4,315 L345.6,315.6 L343.1,313.8 L340,311.9 L338.1,313.1 M310,286.5 L315,291 L320,295 L325,295.2 L330,295.6 L333.1,298.1 L334.4,300.6 L334,305 L334.4,308.8 L336.2,310.6 L338.1,312.5 M334.4,300.6 L337.5,298.8 L340.6,296.9 L342.5,294.4 L342.5,290 M400,401 L405,402 L405.6,406 L403,412 L401,418 L399.6,424 L404,426 L405.6,431 L403,434.4 L399,436 L397,441 L395,447 L391.6,453.6 L396,457 L401,460 L402,467 L403,474 L400,479 L396,476 L393,471 L390,472.4 L393,478 L397,484 L400,488 L406,491 L414,495 L422,499 L428,502.4 L431,508 L434,513 L436,520 M503,436.6 L510,437 L518,436.6 L526,435.6 L530,434.4 M503,436.6 L504,443 L506,449 L507,456 L505,462 L501,466 L496,468.4 L491,469.6 L489,474 L487,479 L485,485 L484.4,491 L481,497 L475,499.6 L469,500 L463,502 L458,506 L459,511 L462,516 L464,520 M400,488 L408,492 L416,496 L424,500 L428,502 L431,507 L435,513 L436,519 L436,525 L436,530 M493,470 L489,475 L486,481 L485,488 L483,495 L480,499 L474,500 L468,500.4 L463,502 L459,505 L458,509 L461,513 L464,517 L464.4,521 L461,522.4 L458,521.6 L457.6,526 L456,530 L453,533 L449,534.4 L445,532 L440,530 L436,530 M449,534.4 L451,540 L452.4,545.6 M436,523 L432,522 L428,520 L424,521.6 L419,523 L414.4,523.6 L413,527 L415,532 L420,535 L425,538 L427.6,542 L428,545.6 M436,526 L432,527 L428,529 L425.6,532 L428,535 L431.6,537 L432,542 L431.6,545.6 M104.4,346 L109,350.6 L116,352 L124,352.6 L131,353.6 L140,352.4 L150,352.4 L160,351.6 L168,350.4 L174,350 L179,352 L182,357 L183,362 L180,366 L175,369 L170,372.4 L165,375 L163,379 L163.6,384 L166,389 L170,391.6 L175,392 L182,396 L190,399 L200,404 L210,408.4 L218,411.6 L224,413 L230,416 L238,418 L244,420 L250,423 L256,428 L260,431 M104.4,490 L112,492 L118,497 L123,502 L127,505.6 L132,505.6 L136,502.4 L139,500 L143,499.6 L147,502 L151,508 L155,516 L155.6,524 L157,530 L159,535 L162,540 L165,545 M233,545 L228,541 L220,535.6 L212,535.6 L206,533 L203,528 L203,522 L205.6,516 L209,511 L211,505 L211,499 L214,495 L219,491 L220,486 L224,480 L230,473 L234,468 L238,465 L243,464 L250,465 L258,466.6 M259,430 L265,437 L272,441 L280,444 L288,447 L296,450 L304,453 L305.6,459 L309,463 L315,467 L322,472 L328,478 L332.4,483 L335,489 L338,495 L337,500 L333,504 L331,509 L330,516 L330.4,519.4 L324,519.4 L317,518 L310,514 L304,509 L303,505 L305,500 L303.6,494 L300,488 L296,483 L293,481.6 L286,481.6 L278,481.6 L270,481.6 L264,479.6 L257,477 L251,473.6 L253,470 L258,467"/>
<path class="th" d="M463,279 L467,277 L473,275 L471,271 L475,267 L480,264 L483,260 L482,255 L478,250 L484,248 L491,245 L496,249 L494,252 L500,255.6 L508,256 L513.6,258 L515,263 L519,266 L520,271 L524,274 L533,276.4 L532,284 L531,286 L538,288 L544,289.6 L549,291 L554,289.6 L556.4,294 L554,299 L551,304 L548,309 L546,314 L541,317 L540,320 L543,324"/>
</g>
<rect x="104" y="66" width="555" height="480" fill="none" stroke="#000" stroke-width="2"/>
<line x1="104.5" y1="546" x2="104.5" y2="550" stroke="#000" stroke-width="1" shape-rendering="crispEdges"/>
<line x1="170.5" y1="546" x2="170.5" y2="550" stroke="#000" stroke-width="1" shape-rendering="crispEdges"/>
<line x1="237.5" y1="546" x2="237.5" y2="550" stroke="#000" stroke-width="1" shape-rendering="crispEdges"/>
<line x1="304.5" y1="546" x2="304.5" y2="550" stroke="#000" stroke-width="1" shape-rendering="crispEdges"/>
<line x1="370.5" y1="546" x2="370.5" y2="550" stroke="#000" stroke-width="1" shape-rendering="crispEdges"/>
<line x1="437.5" y1="546" x2="437.5" y2="550" stroke="#000" stroke-width="1" shape-rendering="crispEdges"/>
<line x1="504.5" y1="546" x2="504.5" y2="550" stroke="#000" stroke-width="1" shape-rendering="crispEdges"/>
<line x1="570.5" y1="546" x2="570.5" y2="550" stroke="#000" stroke-width="1" shape-rendering="crispEdges"/>
<line x1="637.5" y1="546" x2="637.5" y2="550" stroke="#000" stroke-width="1" shape-rendering="crispEdges"/>
<line x1="100" y1="66.5" x2="104" y2="66.5" stroke="#000" stroke-width="1" shape-rendering="crispEdges"/>
<line x1="100" y1="106.5" x2="104" y2="106.5" stroke="#000" stroke-width="1" shape-rendering="crispEdges"/>
<line x1="100" y1="146.5" x2="104" y2="146.5" stroke="#000" stroke-width="1" shape-rendering="crispEdges"/>
<line x1="100" y1="186.5" x2="104" y2="186.5" stroke="#000" stroke-width="1" shape-rendering="crispEdges"/>
<line x1="100" y1="226.5" x2="104" y2="226.5" stroke="#000" stroke-width="1" shape-rendering="crispEdges"/>
<line x1="100" y1="266.5" x2="104" y2="266.5" stroke="#000" stroke-width="1" shape-rendering="crispEdges"/>
<line x1="100" y1="306.5" x2="104" y2="306.5" stroke="#000" stroke-width="1" shape-rendering="crispEdges"/>
<line x1="100" y1="346.5" x2="104" y2="346.5" stroke="#000" stroke-width="1" shape-rendering="crispEdges"/>
<line x1="100" y1="386.5" x2="104" y2="386.5" stroke="#000" stroke-width="1" shape-rendering="crispEdges"/>
<line x1="100" y1="426.5" x2="104" y2="426.5" stroke="#000" stroke-width="1" shape-rendering="crispEdges"/>
<line x1="100" y1="466.5" x2="104" y2="466.5" stroke="#000" stroke-width="1" shape-rendering="crispEdges"/>
<line x1="100" y1="506.5" x2="104" y2="506.5" stroke="#000" stroke-width="1" shape-rendering="crispEdges"/>
<line x1="100" y1="546.5" x2="104" y2="546.5" stroke="#000" stroke-width="1" shape-rendering="crispEdges"/>
<path d="M684,116.0 L690.5,83 L698,116.0Z" fill="#a020ff"/>
<rect x="684" y="115.50" width="14" height="32.09" fill="#3c3cfa"/>
<rect x="684" y="147.29" width="14" height="32.09" fill="#50a0f0"/>
<rect x="684" y="179.08" width="14" height="32.09" fill="#96d2fa"/>
<rect x="684" y="210.87" width="14" height="32.09" fill="#149614"/>
<rect x="684" y="242.66" width="14" height="32.09" fill="#78f078"/>
<rect x="684" y="274.45" width="14" height="32.09" fill="#ffffff"/>
<rect x="684" y="306.24" width="14" height="32.09" fill="#ffffff"/>
<rect x="684" y="338.03" width="14" height="32.09" fill="#fffdc8"/>
<rect x="684" y="369.82" width="14" height="32.09" fill="#f6c845"/>
<rect x="684" y="401.61" width="14" height="32.09" fill="#fa9646"/>
<rect x="684" y="433.40" width="14" height="32.09" fill="#ff0000"/>
<rect x="684" y="465.19" width="14" height="32.09" fill="#b40000"/>
<path d="M684,497 L690.5,529 L698,497Z" fill="#730000"/>
<path d="M690.5,83 L683.5,115.5 L683.5,497 L690,529" fill="none" stroke="#000" stroke-width="1"/>
<line x1="683" y1="147.5" x2="698" y2="147.5" stroke="#000" stroke-width="1" shape-rendering="crispEdges"/>
<line x1="683" y1="179.5" x2="698" y2="179.5" stroke="#000" stroke-width="1" shape-rendering="crispEdges"/>
<line x1="683" y1="210.5" x2="698" y2="210.5" stroke="#000" stroke-width="1" shape-rendering="crispEdges"/>
<line x1="683" y1="242.5" x2="698" y2="242.5" stroke="#000" stroke-width="1" shape-rendering="crispEdges"/>
<line x1="683" y1="274.5" x2="698" y2="274.5" stroke="#000" stroke-width="1" shape-rendering="crispEdges"/>
<line x1="683" y1="306.5" x2="698" y2="306.5" stroke="#000" stroke-width="1" shape-rendering="crispEdges"/>
<line x1="683" y1="338.5" x2="698" y2="338.5" stroke="#000" stroke-width="1" shape-rendering="crispEdges"/>
<line x1="683" y1="369.5" x2="698" y2="369.5" stroke="#000" stroke-width="1" shape-rendering="crispEdges"/>
<line x1="683" y1="401.5" x2="698" y2="401.5" stroke="#000" stroke-width="1" shape-rendering="crispEdges"/>
<line x1="683" y1="433.5" x2="698" y2="433.5" stroke="#000" stroke-width="1" shape-rendering="crispEdges"/>
<line x1="683" y1="465.5" x2="698" y2="465.5" stroke="#000" stroke-width="1" shape-rendering="crispEdges"/>
<line x1="683" y1="496.5" x2="698" y2="496.5" stroke="#000" stroke-width="1" shape-rendering="crispEdges"/>
<path d="M96.40,553.88 L97.08,553.57 L98.10,552.64 L98.10,559.15 M101.80,557.91 L102.14,558.53 L102.48,558.84 L103.50,559.15 L104.52,559.15 L105.54,558.84 L106.22,558.22 L106.56,557.29 L106.56,556.67 L106.22,555.74 L105.54,555.12 L104.52,554.81 L103.50,554.81 L102.48,555.12 L102.14,555.43 L102.48,552.64 L105.88,552.64 M108.58,555.74 L108.58,552.64 L113.00,552.64 M108.58,555.74 L108.58,559.15 L113.00,559.15 M108.58,555.74 L111.30,555.74 M163.07,553.88 L163.75,553.57 L164.77,552.64 L164.77,559.15 M168.80,556.98 L168.80,555.43 L169.14,553.88 L169.82,552.95 L170.84,552.64 L171.52,552.64 L172.54,552.95 L172.88,553.57 M168.80,556.98 L169.14,556.05 L169.82,555.43 L170.84,555.12 L171.18,555.12 L172.20,555.43 L172.88,556.05 L173.22,556.98 L173.22,557.29 L172.88,558.22 L172.20,558.84 L171.18,559.15 L170.84,559.15 L169.82,558.84 L169.14,558.22 L168.80,556.98 M175.25,555.74 L175.25,552.64 L179.67,552.64 M175.25,555.74 L175.25,559.15 L179.67,559.15 M175.25,555.74 L177.97,555.74 M229.73,553.88 L230.41,553.57 L231.43,552.64 L231.43,559.15 M235.13,552.64 L239.89,552.64 L236.49,559.15 M241.91,555.74 L241.91,552.64 L246.33,552.64 M241.91,555.74 L241.91,559.15 L246.33,559.15 M241.91,555.74 L244.63,555.74 M296.40,553.88 L297.08,553.57 L298.10,552.64 L298.10,559.15 M301.80,556.98 L301.80,557.91 L302.14,558.53 L302.48,558.84 L303.50,559.15 L304.86,559.15 L305.88,558.84 L306.22,558.53 L306.56,557.91 L306.56,556.98 L306.22,556.36 L305.54,555.74 L304.52,555.43 L303.16,555.12 L302.48,554.81 L302.14,554.19 L302.14,553.57 L302.48,552.95 L303.50,552.64 L304.86,552.64 L305.88,552.95 L306.22,553.57 L306.22,554.19 L305.88,554.81 L305.20,555.12 L303.84,555.43 L302.82,555.74 L302.14,556.36 L301.80,556.98 M308.58,555.74 L308.58,552.64 L313.00,552.64 M308.58,555.74 L308.58,559.15 L313.00,559.15 M308.58,555.74 L311.30,555.74 M363.07,553.88 L363.75,553.57 L364.77,552.64 L364.77,559.15 M368.82,558.22 L369.16,558.84 L370.18,559.15 L370.86,559.15 L371.88,558.84 L372.56,557.91 L372.90,556.36 L372.90,554.81 M372.90,554.81 L372.56,553.57 L371.88,552.95 L370.86,552.64 L370.52,552.64 L369.50,552.95 L368.82,553.57 L368.48,554.50 L368.48,554.81 L368.82,555.74 L369.50,556.36 L370.52,556.67 L370.86,556.67 L371.88,556.36 L372.56,555.74 L372.90,554.81 M375.25,555.74 L375.25,552.64 L379.67,552.64 M375.25,555.74 L375.25,559.15 L379.67,559.15 M375.25,555.74 L377.97,555.74 M429.55,554.19 L429.55,553.88 L429.89,553.26 L430.23,552.95 L430.91,552.64 L432.27,552.64 L432.95,552.95 L433.29,553.26 L433.63,553.88 L433.63,554.50 L433.29,555.12 L432.61,556.05 L429.21,559.15 L433.97,559.15 M435.66,555.43 L435.66,556.36 L436.00,557.91 L436.68,558.84 L437.70,559.15 L438.38,559.15 L439.40,558.84 L440.08,557.91 L440.42,556.36 L440.42,555.43 L440.08,553.88 L439.40,552.95 L438.38,552.64 L437.70,552.64 L436.68,552.95 L436.00,553.88 L435.66,555.43 M442.44,555.74 L442.44,552.64 L446.86,552.64 M442.44,555.74 L442.44,559.15 L446.86,559.15 M442.44,555.74 L445.16,555.74 M496.22,554.19 L496.22,553.88 L496.56,553.26 L496.90,552.95 L497.58,552.64 L498.94,552.64 L499.62,552.95 L499.96,553.26 L500.30,553.88 L500.30,554.50 L499.96,555.12 L499.28,556.05 L495.88,559.15 L500.64,559.15 M503.37,553.88 L504.05,553.57 L505.07,552.64 L505.07,559.15 M509.10,555.74 L509.10,552.64 L513.52,552.64 M509.10,555.74 L509.10,559.15 L513.52,559.15 M509.10,555.74 L511.82,555.74 M562.88,554.19 L562.88,553.88 L563.22,553.26 L563.56,552.95 L564.24,552.64 L565.60,552.64 L566.28,552.95 L566.62,553.26 L566.96,553.88 L566.96,554.50 L566.62,555.12 L565.94,556.05 L562.54,559.15 L567.30,559.15 M569.33,554.19 L569.33,553.88 L569.67,553.26 L570.01,552.95 L570.69,552.64 L572.05,552.64 L572.73,552.95 L573.07,553.26 L573.41,553.88 L573.41,554.50 L573.07,555.12 L572.39,556.05 L568.99,559.15 L573.75,559.15 M575.77,555.74 L575.77,552.64 L580.19,552.64 M575.77,555.74 L575.77,559.15 L580.19,559.15 M575.77,555.74 L578.49,555.74 M629.55,554.19 L629.55,553.88 L629.89,553.26 L630.23,552.95 L630.91,552.64 L632.27,552.64 L632.95,552.95 L633.29,553.26 L633.63,553.88 L633.63,554.50 L633.29,555.12 L632.61,556.05 L629.21,559.15 L633.97,559.15 M635.66,557.91 L636.00,558.53 L636.34,558.84 L637.36,559.15 L638.38,559.15 L639.40,558.84 L640.08,558.22 L640.42,557.29 L640.42,556.67 L640.08,555.74 L639.74,555.43 L639.06,555.12 L638.04,555.12 L640.08,552.64 L636.34,552.64 M642.44,555.74 L642.44,552.64 L646.86,552.64 M642.44,555.74 L642.44,559.15 L646.86,559.15 M642.44,555.74 L645.16,555.74 M72.50,67.98 L69.10,67.98 L72.50,63.64 L72.50,67.98 M72.50,67.98 L72.50,70.15 M72.50,67.98 L74.20,67.98 M75.54,68.91 L75.88,69.53 L76.22,69.84 L77.24,70.15 L78.26,70.15 L79.28,69.84 L79.96,69.22 L80.30,68.29 L80.30,67.67 L79.96,66.74 L79.28,66.12 L78.26,65.81 L77.24,65.81 L76.22,66.12 L75.88,66.43 L76.22,63.64 L79.62,63.64 M82.40,69.84 L82.74,69.53 L83.08,69.84 L82.74,70.15 L82.40,69.84 M85.19,68.91 L85.53,69.53 L85.87,69.84 L86.89,70.15 L87.91,70.15 L88.93,69.84 L89.61,69.22 L89.95,68.29 L89.95,67.67 L89.61,66.74 L88.93,66.12 L87.91,65.81 L86.89,65.81 L85.87,66.12 L85.53,66.43 L85.87,63.64 L89.27,63.64 M91.94,70.15 L91.94,63.64 L96.70,70.15 L96.70,63.64 M82.15,107.98 L78.75,107.98 L82.15,103.64 L82.15,107.98 M82.15,107.98 L82.15,110.15 M82.15,107.98 L83.85,107.98 M85.19,108.91 L85.53,109.53 L85.87,109.84 L86.89,110.15 L87.91,110.15 L88.93,109.84 L89.61,109.22 L89.95,108.29 L89.95,107.67 L89.61,106.74 L88.93,106.12 L87.91,105.81 L86.89,105.81 L85.87,106.12 L85.53,106.43 L85.87,103.64 L89.27,103.64 M91.94,110.15 L91.94,103.64 L96.70,110.15 L96.70,103.64 M72.50,147.98 L69.10,147.98 L72.50,143.64 L72.50,147.98 M72.50,147.98 L72.50,150.15 M72.50,147.98 L74.20,147.98 M78.93,147.98 L75.53,147.98 L78.93,143.64 L78.93,147.98 M78.93,147.98 L78.93,150.15 M78.93,147.98 L80.63,147.98 M82.40,149.84 L82.74,149.53 L83.08,149.84 L82.74,150.15 L82.40,149.84 M85.19,148.91 L85.53,149.53 L85.87,149.84 L86.89,150.15 L87.91,150.15 L88.93,149.84 L89.61,149.22 L89.95,148.29 L89.95,147.67 L89.61,146.74 L88.93,146.12 L87.91,145.81 L86.89,145.81 L85.87,146.12 L85.53,146.43 L85.87,143.64 L89.27,143.64 M91.94,150.15 L91.94,143.64 L96.70,150.15 L96.70,143.64 M82.15,187.98 L78.75,187.98 L82.15,183.64 L82.15,187.98 M82.15,187.98 L82.15,190.15 M82.15,187.98 L83.85,187.98 M88.58,187.98 L85.18,187.98 L88.58,183.64 L88.58,187.98 M88.58,187.98 L88.58,190.15 M88.58,187.98 L90.28,187.98 M91.94,190.15 L91.94,183.64 L96.70,190.15 L96.70,183.64 M72.50,227.98 L69.10,227.98 L72.50,223.64 L72.50,227.98 M72.50,227.98 L72.50,230.15 M72.50,227.98 L74.20,227.98 M75.54,228.91 L75.88,229.53 L76.22,229.84 L77.24,230.15 L78.26,230.15 L79.28,229.84 L79.96,229.22 L80.30,228.29 L80.30,227.67 L79.96,226.74 L79.62,226.43 L78.94,226.12 L77.92,226.12 L79.96,223.64 L76.22,223.64 M82.40,229.84 L82.74,229.53 L83.08,229.84 L82.74,230.15 L82.40,229.84 M85.19,228.91 L85.53,229.53 L85.87,229.84 L86.89,230.15 L87.91,230.15 L88.93,229.84 L89.61,229.22 L89.95,228.29 L89.95,227.67 L89.61,226.74 L88.93,226.12 L87.91,225.81 L86.89,225.81 L85.87,226.12 L85.53,226.43 L85.87,223.64 L89.27,223.64 M91.94,230.15 L91.94,223.64 L96.70,230.15 L96.70,223.64 M82.15,267.98 L78.75,267.98 L82.15,263.64 L82.15,267.98 M82.15,267.98 L82.15,270.15 M82.15,267.98 L83.85,267.98 M85.19,268.91 L85.53,269.53 L85.87,269.84 L86.89,270.15 L87.91,270.15 L88.93,269.84 L89.61,269.22 L89.95,268.29 L89.95,267.67 L89.61,266.74 L89.27,266.43 L88.59,266.12 L87.57,266.12 L89.61,263.64 L85.87,263.64 M91.94,270.15 L91.94,263.64 L96.70,270.15 L96.70,263.64 M72.50,307.98 L69.10,307.98 L72.50,303.64 L72.50,307.98 M72.50,307.98 L72.50,310.15 M72.50,307.98 L74.20,307.98 M75.88,305.19 L75.88,304.88 L76.22,304.26 L76.56,303.95 L77.24,303.64 L78.60,303.64 L79.28,303.95 L79.62,304.26 L79.96,304.88 L79.96,305.50 L79.62,306.12 L78.94,307.05 L75.54,310.15 L80.30,310.15 M82.40,309.84 L82.74,309.53 L83.08,309.84 L82.74,310.15 L82.40,309.84 M85.19,308.91 L85.53,309.53 L85.87,309.84 L86.89,310.15 L87.91,310.15 L88.93,309.84 L89.61,309.22 L89.95,308.29 L89.95,307.67 L89.61,306.74 L88.93,306.12 L87.91,305.81 L86.89,305.81 L85.87,306.12 L85.53,306.43 L85.87,303.64 L89.27,303.64 M91.94,310.15 L91.94,303.64 L96.70,310.15 L96.70,303.64 M82.15,347.98 L78.75,347.98 L82.15,343.64 L82.15,347.98 M82.15,347.98 L82.15,350.15 M82.15,347.98 L83.85,347.98 M85.53,345.19 L85.53,344.88 L85.87,344.26 L86.21,343.95 L86.89,343.64 L88.25,343.64 L88.93,343.95 L89.27,344.26 L89.61,344.88 L89.61,345.50 L89.27,346.12 L88.59,347.05 L85.19,350.15 L89.95,350.15 M91.94,350.15 L91.94,343.64 L96.70,350.15 L96.70,343.64 M72.50,387.98 L69.10,387.98 L72.50,383.64 L72.50,387.98 M72.50,387.98 L72.50,390.15 M72.50,387.98 L74.20,387.98 M76.59,384.88 L77.27,384.57 L78.29,383.64 L78.29,390.15 M82.40,389.84 L82.74,389.53 L83.08,389.84 L82.74,390.15 L82.40,389.84 M85.19,388.91 L85.53,389.53 L85.87,389.84 L86.89,390.15 L87.91,390.15 L88.93,389.84 L89.61,389.22 L89.95,388.29 L89.95,387.67 L89.61,386.74 L88.93,386.12 L87.91,385.81 L86.89,385.81 L85.87,386.12 L85.53,386.43 L85.87,383.64 L89.27,383.64 M91.94,390.15 L91.94,383.64 L96.70,390.15 L96.70,383.64 M82.15,427.98 L78.75,427.98 L82.15,423.64 L82.15,427.98 M82.15,427.98 L82.15,430.15 M82.15,427.98 L83.85,427.98 M86.23,424.88 L86.91,424.57 L87.93,423.64 L87.93,430.15 M91.94,430.15 L91.94,423.64 L96.70,430.15 L96.70,423.64 M72.50,467.98 L69.10,467.98 L72.50,463.64 L72.50,467.98 M72.50,467.98 L72.50,470.15 M72.50,467.98 L74.20,467.98 M75.54,466.43 L75.54,467.36 L75.88,468.91 L76.56,469.84 L77.58,470.15 L78.26,470.15 L79.28,469.84 L79.96,468.91 L80.30,467.36 L80.30,466.43 L79.96,464.88 L79.28,463.95 L78.26,463.64 L77.58,463.64 L76.56,463.95 L75.88,464.88 L75.54,466.43 M82.40,469.84 L82.74,469.53 L83.08,469.84 L82.74,470.15 L82.40,469.84 M85.19,468.91 L85.53,469.53 L85.87,469.84 L86.89,470.15 L87.91,470.15 L88.93,469.84 L89.61,469.22 L89.95,468.29 L89.95,467.67 L89.61,466.74 L88.93,466.12 L87.91,465.81 L86.89,465.81 L85.87,466.12 L85.53,466.43 L85.87,463.64 L89.27,463.64 M91.94,470.15 L91.94,463.64 L96.70,470.15 L96.70,463.64 M82.15,507.98 L78.75,507.98 L82.15,503.64 L82.15,507.98 M82.15,507.98 L82.15,510.15 M82.15,507.98 L83.85,507.98 M85.19,506.43 L85.19,507.36 L85.53,508.91 L86.21,509.84 L87.23,510.15 L87.91,510.15 L88.93,509.84 L89.61,508.91 L89.95,507.36 L89.95,506.43 L89.61,504.88 L88.93,503.95 L87.91,503.64 L87.23,503.64 L86.21,503.95 L85.53,504.88 L85.19,506.43 M91.94,510.15 L91.94,503.64 L96.70,510.15 L96.70,503.64 M69.11,548.91 L69.45,549.53 L69.79,549.84 L70.81,550.15 L71.83,550.15 L72.85,549.84 L73.53,549.22 L73.87,548.29 L73.87,547.67 L73.53,546.74 L73.19,546.43 L72.51,546.12 L71.49,546.12 L73.53,543.64 L69.79,543.64 M75.89,549.22 L76.23,549.84 L77.25,550.15 L77.93,550.15 L78.95,549.84 L79.63,548.91 L79.97,547.36 L79.97,545.81 M79.97,545.81 L79.63,544.57 L78.95,543.95 L77.93,543.64 L77.59,543.64 L76.57,543.95 L75.89,544.57 L75.55,545.50 L75.55,545.81 L75.89,546.74 L76.57,547.36 L77.59,547.67 L77.93,547.67 L78.95,547.36 L79.63,546.74 L79.97,545.81 M82.40,549.84 L82.74,549.53 L83.08,549.84 L82.74,550.15 L82.40,549.84 M85.19,548.91 L85.53,549.53 L85.87,549.84 L86.89,550.15 L87.91,550.15 L88.93,549.84 L89.61,549.22 L89.95,548.29 L89.95,547.67 L89.61,546.74 L88.93,546.12 L87.91,545.81 L86.89,545.81 L85.87,546.12 L85.53,546.43 L85.87,543.64 L89.27,543.64 M91.94,550.15 L91.94,543.64 L96.70,550.15 L96.70,543.64" fill="none" stroke="#000" stroke-width="1.0" stroke-linejoin="round" stroke-linecap="square" shape-rendering="crispEdges"/>
<path d="M702.65,117.85 L703.05,118.58 L703.45,118.94 L704.65,119.30 L705.85,119.30 L707.05,118.94 L707.85,118.21 L708.25,117.13 L708.25,116.40 L707.85,115.32 L707.05,114.59 L705.85,114.23 L704.65,114.23 L703.45,114.59 L703.05,114.96 L703.45,111.70 L707.45,111.70 M709.85,114.96 L709.85,116.04 L710.25,117.85 L711.05,118.94 L712.25,119.30 L713.05,119.30 L714.25,118.94 L715.05,117.85 L715.45,116.04 L715.45,114.96 L715.05,113.15 L714.25,112.06 L713.05,111.70 L712.25,111.70 L711.05,112.06 L710.25,113.15 L709.85,114.96 M702.65,149.64 L703.05,150.37 L703.45,150.73 L704.65,151.09 L705.85,151.09 L707.05,150.73 L707.85,150.00 L708.25,148.92 L708.25,148.19 L707.85,147.11 L707.45,146.75 L706.65,146.38 L705.45,146.38 L707.85,143.49 L703.45,143.49 M709.85,146.75 L709.85,147.83 L710.25,149.64 L711.05,150.73 L712.25,151.09 L713.05,151.09 L714.25,150.73 L715.05,149.64 L715.45,147.83 L715.45,146.75 L715.05,144.94 L714.25,143.85 L713.05,143.49 L712.25,143.49 L711.05,143.85 L710.25,144.94 L709.85,146.75 M703.05,177.09 L703.05,176.73 L703.45,176.00 L703.85,175.64 L704.65,175.28 L706.25,175.28 L707.05,175.64 L707.45,176.00 L707.85,176.73 L707.85,177.45 L707.45,178.17 L706.65,179.26 L702.65,182.88 L708.25,182.88 M709.85,178.54 L709.85,179.62 L710.25,181.43 L711.05,182.52 L712.25,182.88 L713.05,182.88 L714.25,182.52 L715.05,181.43 L715.45,179.62 L715.45,178.54 L715.05,176.73 L714.25,175.64 L713.05,175.28 L712.25,175.28 L711.05,175.64 L710.25,176.73 L709.85,178.54 M702.65,208.52 L703.45,208.15 L704.65,207.07 L704.65,214.67 M708.59,213.22 L708.99,213.95 L709.39,214.31 L710.59,214.67 L711.79,214.67 L712.99,214.31 L713.79,213.58 L714.19,212.50 L714.19,211.77 L713.79,210.69 L712.99,209.96 L711.79,209.60 L710.59,209.60 L709.39,209.96 L708.99,210.33 L709.39,207.07 L713.39,207.07 M702.65,240.31 L703.45,239.94 L704.65,238.86 L704.65,246.46 M708.59,242.12 L708.59,243.20 L708.99,245.01 L709.79,246.10 L710.99,246.46 L711.79,246.46 L712.99,246.10 L713.79,245.01 L714.19,243.20 L714.19,242.12 L713.79,240.31 L712.99,239.22 L711.79,238.86 L710.99,238.86 L709.79,239.22 L708.99,240.31 L708.59,242.12 M702.65,276.80 L703.05,277.53 L703.45,277.89 L704.65,278.25 L705.85,278.25 L707.05,277.89 L707.85,277.16 L708.25,276.08 L708.25,275.35 L707.85,274.27 L707.05,273.54 L705.85,273.18 L704.65,273.18 L703.45,273.54 L703.05,273.91 L703.45,270.65 L707.45,270.65 M702.65,305.70 L702.65,306.78 L703.05,308.59 L703.85,309.68 L705.05,310.04 L705.85,310.04 L707.05,309.68 L707.85,308.59 L708.25,306.78 L708.25,305.70 L707.85,303.89 L707.05,302.80 L705.85,302.44 L705.05,302.44 L703.85,302.80 L703.05,303.89 L702.65,305.70 M702.95,338.57 L710.15,338.57 M712.03,340.38 L712.43,341.11 L712.83,341.47 L714.03,341.83 L715.23,341.83 L716.43,341.47 L717.23,340.74 L717.63,339.66 L717.63,338.93 L717.23,337.85 L716.43,337.12 L715.23,336.76 L714.03,336.76 L712.83,337.12 L712.43,337.49 L712.83,334.23 L716.83,334.23 M702.95,370.36 L710.15,370.36 M713.29,367.47 L714.09,367.10 L715.29,366.02 L715.29,373.62 M719.23,369.28 L719.23,370.36 L719.63,372.17 L720.43,373.26 L721.63,373.62 L722.43,373.62 L723.63,373.26 L724.43,372.17 L724.83,370.36 L724.83,369.28 L724.43,367.47 L723.63,366.38 L722.43,366.02 L721.63,366.02 L720.43,366.38 L719.63,367.47 L719.23,369.28 M702.95,402.15 L710.15,402.15 M713.29,399.26 L714.09,398.89 L715.29,397.81 L715.29,405.41 M719.23,403.96 L719.63,404.69 L720.03,405.05 L721.23,405.41 L722.43,405.41 L723.63,405.05 L724.43,404.32 L724.83,403.24 L724.83,402.51 L724.43,401.43 L723.63,400.70 L722.43,400.34 L721.23,400.34 L720.03,400.70 L719.63,401.07 L720.03,397.81 L724.03,397.81 M702.95,433.94 L710.15,433.94 M712.43,431.41 L712.43,431.05 L712.83,430.32 L713.23,429.96 L714.03,429.60 L715.63,429.60 L716.43,429.96 L716.83,430.32 L717.23,431.05 L717.23,431.77 L716.83,432.49 L716.03,433.58 L712.03,437.20 L717.63,437.20 M719.23,432.86 L719.23,433.94 L719.63,435.75 L720.43,436.84 L721.63,437.20 L722.43,437.20 L723.63,436.84 L724.43,435.75 L724.83,433.94 L724.83,432.86 L724.43,431.05 L723.63,429.96 L722.43,429.60 L721.63,429.60 L720.43,429.96 L719.63,431.05 L719.23,432.86 M702.95,465.73 L710.15,465.73 M712.03,467.54 L712.43,468.27 L712.83,468.63 L714.03,468.99 L715.23,468.99 L716.43,468.63 L717.23,467.90 L717.63,466.82 L717.63,466.09 L717.23,465.01 L716.83,464.65 L716.03,464.28 L714.83,464.28 L717.23,461.39 L712.83,461.39 M719.23,464.65 L719.23,465.73 L719.63,467.54 L720.43,468.63 L721.63,468.99 L722.43,468.99 L723.63,468.63 L724.43,467.54 L724.83,465.73 L724.83,464.65 L724.43,462.84 L723.63,461.75 L722.43,461.39 L721.63,461.39 L720.43,461.75 L719.63,462.84 L719.23,464.65 M702.95,497.52 L710.15,497.52 M712.03,499.33 L712.43,500.06 L712.83,500.42 L714.03,500.78 L715.23,500.78 L716.43,500.42 L717.23,499.69 L717.63,498.61 L717.63,497.88 L717.23,496.80 L716.43,496.07 L715.23,495.71 L714.03,495.71 L712.83,496.07 L712.43,496.44 L712.83,493.18 L716.83,493.18 M719.23,496.44 L719.23,497.52 L719.63,499.33 L720.43,500.42 L721.63,500.78 L722.43,500.78 L723.63,500.42 L724.43,499.33 L724.83,497.52 L724.83,496.44 L724.43,494.63 L723.63,493.54 L722.43,493.18 L721.63,493.18 L720.43,493.54 L719.63,494.63 L719.23,496.44" fill="none" stroke="#000" stroke-width="1.3" stroke-linejoin="round" stroke-linecap="square" shape-rendering="crispEdges"/>
<path d="M36.30,13.77 L38.38,20.00 L40.46,13.77 L42.54,20.00 L44.62,13.77 M46.60,13.77 L46.60,16.44 M46.60,16.44 L46.60,20.00 M46.60,16.44 L47.12,15.11 L48.16,14.21 L49.20,13.77 L50.76,13.77 M53.50,13.77 L55.06,13.77 M55.06,13.77 L55.06,12.43 L55.58,11.10 L56.62,10.65 L57.66,10.65 M55.06,13.77 L55.06,20.00 M55.06,13.77 L57.14,13.77 M63.70,16.00 L73.06,16.00 M76.20,13.77 L76.20,15.55 M76.20,15.55 L76.20,20.00 M76.20,15.55 L77.76,14.21 L78.80,13.77 L80.36,13.77 L81.40,14.21 L81.92,15.55 L81.92,20.00 M86.90,13.77 L86.90,15.55 M86.90,15.55 L86.90,20.00 M86.90,15.55 L88.46,14.21 L89.50,13.77 L91.06,13.77 L92.10,14.21 L92.62,15.55 M92.62,15.55 L92.62,20.00 M92.62,15.55 L94.18,14.21 L95.22,13.77 L96.78,13.77 L97.82,14.21 L98.34,15.55 L98.34,20.00 M101.60,13.77 L101.60,15.55 M101.60,15.55 L101.60,20.00 M101.60,15.55 L103.16,14.21 L104.20,13.77 L105.76,13.77 L106.80,14.21 L107.32,15.55 M107.32,15.55 L107.32,20.00 M107.32,15.55 L108.88,14.21 L109.92,13.77 L111.48,13.77 L112.52,14.21 L113.04,15.55 L113.04,20.00 M117.50,15.11 L117.50,10.65 L124.26,10.65 M117.50,15.11 L117.50,20.00 L124.26,20.00 M117.50,15.11 L121.66,15.11 M124.60,23.34 L135.00,23.34 M137.00,13.77 L140.12,20.00 L143.24,13.77 M145.70,18.22 L146.22,19.11 L146.74,19.55 L148.30,20.00 L149.86,20.00 L151.42,19.55 L152.46,18.66 L152.98,17.33 L152.98,16.44 L152.46,15.11 L151.94,14.66 L150.90,14.21 L149.34,14.21 L152.46,10.65 L146.74,10.65 M157.00,19.55 L157.52,19.11 L158.04,19.55 L157.52,20.00 L157.00,19.55 M162.52,18.66 L163.04,19.55 L164.60,20.00 L165.64,20.00 L167.20,19.55 L168.24,18.22 L168.76,16.00 L168.76,13.77 M168.76,13.77 L168.24,11.99 L167.20,11.10 L165.64,10.65 L165.12,10.65 L163.56,11.10 L162.52,11.99 L162.00,13.32 L162.00,13.77 L162.52,15.11 L163.56,16.00 L165.12,16.44 L165.64,16.44 L167.20,16.00 L168.24,15.11 L168.76,13.77 M173.20,19.55 L173.72,19.11 L174.24,19.55 L173.72,20.00 L173.20,19.55 M178.20,12.43 L179.24,11.99 L180.80,10.65 L180.80,20.00 M187.60,16.00 L196.96,16.00 M199.50,16.44 L199.50,17.33 L200.02,18.66 L201.06,19.55 L202.10,20.00 L203.66,20.00 L204.70,19.55 L205.74,18.66 M199.50,16.44 L200.02,15.11 L201.06,14.21 L202.10,13.77 L203.66,13.77 L204.70,14.21 L205.22,14.66 L205.74,15.55 L205.74,16.44 L199.50,16.44 M209.40,18.22 L209.92,19.11 L210.44,19.55 L212.00,20.00 L213.56,20.00 L215.12,19.55 L216.16,18.66 L216.68,17.33 L216.68,16.44 L216.16,15.11 L215.64,14.66 L214.60,14.21 L213.04,14.21 L216.16,10.65 L210.44,10.65 M219.10,10.65 L219.10,18.22 M219.10,18.22 L219.10,20.00 M219.10,18.22 L221.18,16.44 M221.18,16.44 L224.30,13.77 M221.18,16.44 L224.82,20.00 M229.36,13.77 L229.36,15.55 M229.36,15.55 L229.36,20.00 M229.36,15.55 L230.92,14.21 L231.96,13.77 L233.52,13.77 L234.56,14.21 L235.08,15.55 M235.08,15.55 L235.08,20.00 M235.08,15.55 L236.64,14.21 L237.68,13.77 L239.24,13.77 L240.28,14.21 L240.80,15.55 L240.80,20.00 M-1.30,36.07 L-1.30,37.85 M-1.30,37.85 L-1.30,42.30 M-1.30,37.85 L0.26,36.52 L1.30,36.07 L2.86,36.07 L3.90,36.52 L4.42,37.85 L4.42,42.30 M17.00,42.30 L21.16,32.95 L25.32,42.30 M18.56,39.18 L23.76,39.18 M36.34,37.40 L35.30,36.52 L34.26,36.07 L32.70,36.07 L31.66,36.52 L30.62,37.40 L30.10,38.74 L30.10,39.63 L30.62,40.96 L31.66,41.85 L32.70,42.30 L34.26,42.30 L35.30,41.85 L36.34,40.96 M45.74,37.40 L44.70,36.52 L43.66,36.07 L42.10,36.07 L41.06,36.52 L40.02,37.40 L39.50,38.74 L39.50,39.63 L40.02,40.96 L41.06,41.85 L42.10,42.30 L43.66,42.30 L44.70,41.85 L45.74,40.96 M47.20,41.85 L47.72,41.41 L48.24,41.85 L47.72,42.30 L47.20,41.85 M52.60,40.96 L53.64,41.85 L55.20,42.30 L57.28,42.30 L58.84,41.85 L59.88,40.96 L59.88,39.63 L59.36,38.74 L58.84,38.29 L57.80,37.85 L54.68,36.96 L53.64,36.52 L53.12,36.07 L52.60,35.18 L52.60,34.29 L53.64,33.40 L55.20,32.95 L57.28,32.95 L58.84,33.40 L59.88,34.29 M63.80,36.07 L63.80,37.85 M63.80,37.85 L63.80,42.30 M63.80,37.85 L65.36,36.52 L66.40,36.07 L67.96,36.07 L69.00,36.52 L69.52,37.85 L69.52,42.30 M73.20,38.74 L73.20,39.63 L73.72,40.96 L74.76,41.85 L75.80,42.30 L77.36,42.30 L78.40,41.85 L79.44,40.96 L79.96,39.63 L79.96,38.74 L79.44,37.40 L78.40,36.52 L77.36,36.07 L75.80,36.07 L74.76,36.52 L73.72,37.40 L73.20,38.74 M82.60,36.07 L84.68,42.30 L86.76,36.07 L88.84,42.30 L90.92,36.07 M103.80,32.95 L103.80,39.63 L104.32,40.96 L105.36,41.85 L106.92,42.30 L107.96,42.30 L109.52,41.85 L110.56,40.96 L111.08,39.63 L111.08,32.95 M116.30,37.85 L116.30,32.95 L120.98,32.95 L122.54,33.40 L123.06,33.84 L123.58,34.73 L123.58,36.07 L123.06,36.96 L122.54,37.40 L120.98,37.85 L116.30,37.85 M116.30,37.85 L116.30,42.30 M125.10,45.41 L134.46,31.17 M137.60,32.95 L137.60,42.30 L141.24,42.30 L142.80,41.85 L143.84,40.96 L144.36,40.07 L144.88,38.74 L144.88,36.52 L144.36,35.18 L143.84,34.29 L142.80,33.40 L141.24,32.95 L137.60,32.95 M148.80,36.52 L148.80,38.74 L149.32,40.07 L149.84,40.96 L150.88,41.85 L151.92,42.30 L154.00,42.30 L155.04,41.85 L156.08,40.96 L156.60,40.07 L157.12,38.74 L157.12,36.52 L156.60,35.18 L156.08,34.29 L155.04,33.40 L154.00,32.95 L151.92,32.95 L150.88,33.40 L149.84,34.29 L149.32,35.18 L148.80,36.52 M159.50,32.95 L162.10,42.30 L164.70,32.95 L167.30,42.30 L169.90,32.95 M172.00,42.30 L172.00,32.95 L179.28,42.30 L179.28,32.95 M195.34,31.17 L191.70,31.17 L191.70,45.41 L195.34,45.41 M205.44,37.40 L204.40,36.52 L203.36,36.07 L201.80,36.07 L200.76,36.52 L199.72,37.40 L199.20,38.74 L199.20,39.63 L199.72,40.96 L200.76,41.85 L201.80,42.30 L203.36,42.30 L204.40,41.85 L205.44,40.96 M208.80,36.07 L208.80,37.85 M208.80,37.85 L208.80,42.30 M208.80,37.85 L210.36,36.52 L211.40,36.07 L212.96,36.07 L214.00,36.52 L214.52,37.85 M214.52,37.85 L214.52,42.30 M214.52,37.85 L216.08,36.52 L217.12,36.07 L218.68,36.07 L219.72,36.52 L220.24,37.85 L220.24,42.30 M223.80,45.41 L233.16,31.17 M236.22,35.18 L236.22,34.73 L236.74,33.84 L237.26,33.40 L238.30,32.95 L240.38,32.95 L241.42,33.40 L241.94,33.84 L242.46,34.73 L242.46,35.62 L241.94,36.52 L240.90,37.85 L235.70,42.30 L242.98,42.30 M250.30,39.18 L245.10,39.18 L250.30,32.95 L250.30,39.18 M250.30,39.18 L250.30,42.30 M250.30,39.18 L252.90,39.18 M257.20,32.95 L257.20,37.85 M257.20,37.85 L257.20,42.30 M257.20,37.85 L258.76,36.52 L259.80,36.07 L261.36,36.07 L262.40,36.52 L262.92,37.85 L262.92,42.30 M266.26,31.17 L269.90,31.17 L269.90,45.41 L266.26,45.41 M434.12,13.77 L434.12,20.00 M433.60,10.65 L434.12,10.21 L434.64,10.65 L434.12,11.10 L433.60,10.65 M438.50,13.77 L438.50,15.55 M438.50,15.55 L438.50,20.00 M438.50,15.55 L440.06,14.21 L441.10,13.77 L442.66,13.77 L443.70,14.21 L444.22,15.55 L444.22,20.00 M449.62,13.77 L449.62,20.00 M449.10,10.65 L449.62,10.21 L450.14,10.65 L449.62,11.10 L449.10,10.65 M452.30,13.77 L453.86,13.77 M453.86,10.65 L453.86,13.77 M453.86,13.77 L453.86,18.22 L454.38,19.55 L455.42,20.00 L456.46,20.00 M453.86,13.77 L455.94,13.77 M459.22,13.77 L459.22,20.00 M458.70,10.65 L459.22,10.21 L459.74,10.65 L459.22,11.10 L458.70,10.65 M469.04,13.77 L469.04,15.11 M469.04,15.11 L468.00,14.21 L466.96,13.77 L465.40,13.77 L464.36,14.21 L463.32,15.11 L462.80,16.44 L462.80,17.33 L463.32,18.66 L464.36,19.55 L465.40,20.00 L466.96,20.00 L468.00,19.55 L469.04,18.66 M469.04,15.11 L469.04,18.66 M469.04,18.66 L469.04,20.00 M475.10,10.65 L475.10,20.00 M479.32,13.77 L479.32,20.00 M478.80,10.65 L479.32,10.21 L479.84,10.65 L479.32,11.10 L478.80,10.65 M482.30,18.66 L482.82,19.55 L484.38,20.00 L485.94,20.00 L487.50,19.55 L488.02,18.66 L488.02,18.22 L487.50,17.33 L486.46,16.88 L483.86,16.44 L482.82,16.00 L482.30,15.11 L482.82,14.21 L484.38,13.77 L485.94,13.77 L487.50,14.21 L488.02,15.11 M498.01,13.77 L498.01,15.11 M498.01,15.11 L496.97,14.21 L495.93,13.77 L494.37,13.77 L493.33,14.21 L492.29,15.11 L491.77,16.44 L491.77,17.33 L492.29,18.66 L493.33,19.55 L494.37,20.00 L495.93,20.00 L496.97,19.55 L498.01,18.66 M498.01,15.11 L498.01,18.66 M498.01,18.66 L498.01,20.00 M501.70,13.77 L503.26,13.77 M503.26,10.65 L503.26,13.77 M503.26,13.77 L503.26,18.22 L503.78,19.55 L504.82,20.00 L505.86,20.00 M503.26,13.77 L505.34,13.77 M508.42,13.77 L508.42,20.00 M507.90,10.65 L508.42,10.21 L508.94,10.65 L508.42,11.10 L507.90,10.65 M511.70,16.44 L511.70,17.33 L512.22,18.66 L513.26,19.55 L514.30,20.00 L515.86,20.00 L516.90,19.55 L517.94,18.66 L518.46,17.33 L518.46,16.44 L517.94,15.11 L516.90,14.21 L515.86,13.77 L514.30,13.77 L513.26,14.21 L512.22,15.11 L511.70,16.44 M522.20,13.77 L522.20,15.55 M522.20,15.55 L522.20,20.00 M522.20,15.55 L523.76,14.21 L524.80,13.77 L526.36,13.77 L527.40,14.21 L527.92,15.55 L527.92,20.00 M531.70,14.21 L532.22,13.77 L532.74,14.21 L532.22,14.66 L531.70,14.21 M531.70,19.55 L532.22,19.11 L532.74,19.55 L532.22,20.00 L531.70,19.55 M546.22,12.88 L546.22,12.43 L546.74,11.54 L547.26,11.10 L548.30,10.65 L550.38,10.65 L551.42,11.10 L551.94,11.54 L552.46,12.43 L552.46,13.32 L551.94,14.21 L550.90,15.55 L545.70,20.00 L552.98,20.00 M556.20,14.66 L556.20,16.00 L556.72,18.22 L557.76,19.55 L559.32,20.00 L560.36,20.00 L561.92,19.55 L562.96,18.22 L563.48,16.00 L563.48,14.66 L562.96,12.43 L561.92,11.10 L560.36,10.65 L559.32,10.65 L557.76,11.10 L556.72,12.43 L556.20,14.66 M567.22,12.88 L567.22,12.43 L567.74,11.54 L568.26,11.10 L569.30,10.65 L571.38,10.65 L572.42,11.10 L572.94,11.54 L573.46,12.43 L573.46,13.32 L572.94,14.21 L571.90,15.55 L566.70,20.00 L573.98,20.00 M577.20,12.43 L578.24,11.99 L579.80,10.65 L579.80,20.00 M587.20,19.55 L587.72,19.11 L588.24,19.55 L587.72,20.00 L587.20,19.55 M592.70,14.66 L592.70,16.00 L593.22,18.22 L594.26,19.55 L595.82,20.00 L596.86,20.00 L598.42,19.55 L599.46,18.22 L599.98,16.00 L599.98,14.66 L599.46,12.43 L598.42,11.10 L596.86,10.65 L595.82,10.65 L594.26,11.10 L593.22,12.43 L592.70,14.66 M603.20,18.22 L603.72,19.11 L604.24,19.55 L605.80,20.00 L607.36,20.00 L608.92,19.55 L609.96,18.66 L610.48,17.33 L610.48,16.44 L609.96,15.11 L609.44,14.66 L608.40,14.21 L606.84,14.21 L609.96,10.65 L604.24,10.65 M613.70,19.55 L614.22,19.11 L614.74,19.55 L614.22,20.00 L613.70,19.55 M619.22,12.88 L619.22,12.43 L619.74,11.54 L620.26,11.10 L621.30,10.65 L623.38,10.65 L624.42,11.10 L624.94,11.54 L625.46,12.43 L625.46,13.32 L624.94,14.21 L623.90,15.55 L618.70,20.00 L625.98,20.00 M628.70,16.88 L628.70,18.22 L629.22,19.11 L629.74,19.55 L631.30,20.00 L633.38,20.00 L634.94,19.55 L635.46,19.11 L635.98,18.22 L635.98,16.88 L635.46,16.00 L634.42,15.11 L632.86,14.66 L630.78,14.21 L629.74,13.77 L629.22,12.88 L629.22,11.99 L629.74,11.10 L631.30,10.65 L633.38,10.65 L634.94,11.10 L635.46,11.99 L635.46,12.88 L634.94,13.77 L633.90,14.21 L631.82,14.66 L630.26,15.11 L629.22,16.00 L628.70,16.88 M639.20,19.55 L639.72,19.11 L640.24,19.55 L639.72,20.00 L639.20,19.55 M663.20,12.43 L664.24,11.99 L665.80,10.65 L665.80,20.00 M673.22,12.88 L673.22,12.43 L673.74,11.54 L674.26,11.10 L675.30,10.65 L677.38,10.65 L678.42,11.10 L678.94,11.54 L679.46,12.43 L679.46,13.32 L678.94,14.21 L677.90,15.55 L672.70,20.00 L679.98,20.00 M683.50,14.21 L684.02,13.77 L684.54,14.21 L684.02,14.66 L683.50,14.21 M683.50,19.55 L684.02,19.11 L684.54,19.55 L684.02,20.00 L683.50,19.55 M688.70,14.66 L688.70,16.00 L689.22,18.22 L690.26,19.55 L691.82,20.00 L692.86,20.00 L694.42,19.55 L695.46,18.22 L695.98,16.00 L695.98,14.66 L695.46,12.43 L694.42,11.10 L692.86,10.65 L691.82,10.65 L690.26,11.10 L689.22,12.43 L688.70,14.66 M699.20,14.66 L699.20,16.00 L699.72,18.22 L700.76,19.55 L702.32,20.00 L703.36,20.00 L704.92,19.55 L705.96,18.22 L706.48,16.00 L706.48,14.66 L705.96,12.43 L704.92,11.10 L703.36,10.65 L702.32,10.65 L700.76,11.10 L699.72,12.43 L699.20,14.66 M718.50,10.65 L718.50,17.33 L719.02,18.66 L720.06,19.55 L721.62,20.00 L722.66,20.00 L724.22,19.55 L725.26,18.66 L725.78,17.33 L725.78,10.65 M728.70,10.65 L732.34,10.65 M732.34,10.65 L732.34,20.00 M732.34,10.65 L735.98,10.65 M745.30,12.88 L744.78,11.99 L743.74,11.10 L742.70,10.65 L740.62,10.65 L739.58,11.10 L738.54,11.99 L738.02,12.88 L737.50,14.21 L737.50,16.44 L738.02,17.77 L738.54,18.66 L739.58,19.55 L740.62,20.00 L742.70,20.00 L743.74,19.55 L744.78,18.66 L745.30,17.77 M428.70,36.07 L431.82,42.30 L434.94,36.07 M443.44,36.07 L443.44,37.40 M443.44,37.40 L442.40,36.52 L441.36,36.07 L439.80,36.07 L438.76,36.52 L437.72,37.40 L437.20,38.74 L437.20,39.63 L437.72,40.96 L438.76,41.85 L439.80,42.30 L441.36,42.30 L442.40,41.85 L443.44,40.96 M443.44,37.40 L443.44,40.96 M443.44,40.96 L443.44,42.30 M447.90,32.95 L447.90,42.30 M453.02,36.07 L453.02,42.30 M452.50,32.95 L453.02,32.51 L453.54,32.95 L453.02,33.40 L452.50,32.95 M462.74,32.95 L462.74,37.40 M462.74,37.40 L461.70,36.52 L460.66,36.07 L459.10,36.07 L458.06,36.52 L457.02,37.40 L456.50,38.74 L456.50,39.63 L457.02,40.96 L458.06,41.85 L459.10,42.30 L460.66,42.30 L461.70,41.85 L462.74,40.96 M462.74,37.40 L462.74,40.96 M462.74,40.96 L462.74,42.30 M469.84,31.17 L468.80,32.06 L467.76,33.40 L466.72,35.18 L466.20,37.40 L466.20,39.18 L466.72,41.41 L467.76,43.19 L468.80,44.52 L469.84,45.41 M474.70,38.29 L479.38,38.29 M479.38,34.29 L479.38,38.29 M479.38,38.29 L479.38,42.30 M479.38,38.29 L484.06,38.29 M486.70,40.52 L487.22,41.41 L487.74,41.85 L489.30,42.30 L490.86,42.30 L492.42,41.85 L493.46,40.96 L493.98,39.63 L493.98,38.74 L493.46,37.40 L492.94,36.96 L491.90,36.52 L490.34,36.52 L493.46,32.95 L487.74,32.95 M497.20,39.18 L497.20,36.96 L497.72,34.73 L498.76,33.40 L500.32,32.95 L501.36,32.95 L502.92,33.40 L503.44,34.29 M497.20,39.18 L497.72,37.85 L498.76,36.96 L500.32,36.52 L500.84,36.52 L502.40,36.96 L503.44,37.85 L503.96,39.18 L503.96,39.63 L503.44,40.96 L502.40,41.85 L500.84,42.30 L500.32,42.30 L498.76,41.85 L497.72,40.96 L497.20,39.18 M505.70,32.95 L505.70,37.85 M505.70,37.85 L505.70,42.30 M505.70,37.85 L507.26,36.52 L508.30,36.07 L509.86,36.07 L510.90,36.52 L511.42,37.85 L511.42,42.30 M515.70,31.17 L516.74,32.06 L517.78,33.40 L518.82,35.18 L519.34,37.40 L519.34,39.18 L518.82,41.41 L517.78,43.19 L516.74,44.52 L515.70,45.41 M524.70,36.52 L525.22,36.07 L525.74,36.52 L525.22,36.96 L524.70,36.52 M524.70,41.85 L525.22,41.41 L525.74,41.85 L525.22,42.30 L524.70,41.85 M539.22,35.18 L539.22,34.73 L539.74,33.84 L540.26,33.40 L541.30,32.95 L543.38,32.95 L544.42,33.40 L544.94,33.84 L545.46,34.73 L545.46,35.62 L544.94,36.52 L543.90,37.85 L538.70,42.30 L545.98,42.30 M549.20,36.96 L549.20,38.29 L549.72,40.52 L550.76,41.85 L552.32,42.30 L553.36,42.30 L554.92,41.85 L555.96,40.52 L556.48,38.29 L556.48,36.96 L555.96,34.73 L554.92,33.40 L553.36,32.95 L552.32,32.95 L550.76,33.40 L549.72,34.73 L549.20,36.96 M560.22,35.18 L560.22,34.73 L560.74,33.84 L561.26,33.40 L562.30,32.95 L564.38,32.95 L565.42,33.40 L565.94,33.84 L566.46,34.73 L566.46,35.62 L565.94,36.52 L564.90,37.85 L559.70,42.30 L566.98,42.30 M570.70,34.73 L571.74,34.29 L573.30,32.95 L573.30,42.30 M579.70,41.85 L580.22,41.41 L580.74,41.85 L580.22,42.30 L579.70,41.85 M585.20,42.30 L585.20,32.95 L589.36,42.30 L593.52,32.95 L593.52,42.30 M595.70,42.30 L599.86,32.95 L604.02,42.30 M597.26,39.18 L602.46,39.18 M608.20,37.40 L608.20,32.95 L612.88,32.95 L614.44,33.40 L614.96,33.84 L615.48,34.73 L615.48,35.62 L614.96,36.52 L614.44,36.96 L612.88,37.40 L611.84,37.40 M608.20,37.40 L608.20,42.30 M608.20,37.40 L611.84,37.40 M611.84,37.40 L615.48,42.30 M617.70,41.85 L618.22,41.41 L618.74,41.85 L618.22,42.30 L617.70,41.85 M623.20,40.52 L623.72,41.41 L624.24,41.85 L625.80,42.30 L627.36,42.30 L628.92,41.85 L629.96,40.96 L630.48,39.63 L630.48,38.74 L629.96,37.40 L629.44,36.96 L628.40,36.52 L626.84,36.52 L629.96,32.95 L624.24,32.95 M633.70,36.96 L633.70,38.29 L634.22,40.52 L635.26,41.85 L636.82,42.30 L637.86,42.30 L639.42,41.85 L640.46,40.52 L640.98,38.29 L640.98,36.96 L640.46,34.73 L639.42,33.40 L637.86,32.95 L636.82,32.95 L635.26,33.40 L634.22,34.73 L633.70,36.96 M652.70,36.96 L652.70,38.29 L653.22,40.52 L654.26,41.85 L655.82,42.30 L656.86,42.30 L658.42,41.85 L659.46,40.52 L659.98,38.29 L659.98,36.96 L659.46,34.73 L658.42,33.40 L656.86,32.95 L655.82,32.95 L654.26,33.40 L653.22,34.73 L652.70,36.96 M663.20,36.96 L663.20,38.29 L663.72,40.52 L664.76,41.85 L666.32,42.30 L667.36,42.30 L668.92,41.85 L669.96,40.52 L670.48,38.29 L670.48,36.96 L669.96,34.73 L668.92,33.40 L667.36,32.95 L666.32,32.95 L664.76,33.40 L663.72,34.73 L663.20,36.96 M673.70,36.52 L674.22,36.07 L674.74,36.52 L674.22,36.96 L673.70,36.52 M673.70,41.85 L674.22,41.41 L674.74,41.85 L674.22,42.30 L673.70,41.85 M678.70,36.96 L678.70,38.29 L679.22,40.52 L680.26,41.85 L681.82,42.30 L682.86,42.30 L684.42,41.85 L685.46,40.52 L685.98,38.29 L685.98,36.96 L685.46,34.73 L684.42,33.40 L682.86,32.95 L681.82,32.95 L680.26,33.40 L679.22,34.73 L678.70,36.96 M689.20,36.96 L689.20,38.29 L689.72,40.52 L690.76,41.85 L692.32,42.30 L693.36,42.30 L694.92,41.85 L695.96,40.52 L696.48,38.29 L696.48,36.96 L695.96,34.73 L694.92,33.40 L693.36,32.95 L692.32,32.95 L690.76,33.40 L689.72,34.73 L689.20,36.96 M708.70,32.95 L708.70,39.63 L709.22,40.96 L710.26,41.85 L711.82,42.30 L712.86,42.30 L714.42,41.85 L715.46,40.96 L715.98,39.63 L715.98,32.95 M718.70,32.95 L722.34,32.95 M722.34,32.95 L722.34,42.30 M722.34,32.95 L725.98,32.95 M735.30,35.18 L734.78,34.29 L733.74,33.40 L732.70,32.95 L730.62,32.95 L729.58,33.40 L728.54,34.29 L728.02,35.18 L727.50,36.52 L727.50,38.74 L728.02,40.07 L728.54,40.96 L729.58,41.85 L730.62,42.30 L732.70,42.30 L733.74,41.85 L734.78,40.96 L735.30,40.07" fill="none" stroke="#000" stroke-width="1.4" stroke-linejoin="round" stroke-linecap="square" shape-rendering="crispEdges"/>
<path d="M7.70,612.41 L9.20,612.41 L9.20,613.27 L8.90,613.84 L8.30,614.41 L7.70,614.70 L6.50,614.70 L5.90,614.41 L5.30,613.84 L5.00,613.27 L4.70,612.41 L4.70,610.98 L5.00,610.12 L5.30,609.55 L5.90,608.98 L6.50,608.69 L7.70,608.69 L8.30,608.98 L8.90,609.55 L9.20,610.12 M11.33,610.70 L11.33,612.41 M11.33,612.41 L11.33,614.70 M11.33,612.41 L11.63,611.55 L12.23,610.98 L12.83,610.70 L13.73,610.70 M14.36,614.70 L16.76,608.69 L19.16,614.70 M15.26,612.70 L18.26,612.70 M20.70,608.69 L20.70,614.70 L22.80,614.70 L23.70,614.41 L24.30,613.84 L24.60,613.27 L24.90,612.41 L24.90,610.98 L24.60,610.12 L24.30,609.55 L23.70,608.98 L22.80,608.69 L20.70,608.69 M26.74,613.84 L27.34,614.41 L28.24,614.70 L29.44,614.70 L30.34,614.41 L30.94,613.84 L30.94,612.98 L30.64,612.41 L30.34,612.13 L29.74,611.84 L27.94,611.27 L27.34,610.98 L27.04,610.70 L26.74,610.12 L26.74,609.55 L27.34,608.98 L28.24,608.69 L29.44,608.69 L30.34,608.98 L30.94,609.55 M33.06,610.98 L33.36,610.70 L33.66,610.98 L33.36,611.27 L33.06,610.98 M33.06,614.41 L33.36,614.13 L33.66,614.41 L33.36,614.70 L33.06,614.41 M45.12,610.12 L44.82,609.55 L44.22,608.98 L43.62,608.69 L42.42,608.69 L41.82,608.98 L41.22,609.55 L40.92,610.12 L40.62,610.98 L40.62,612.41 L40.92,613.27 L41.22,613.84 L41.82,614.41 L42.42,614.70 L43.62,614.70 L44.22,614.41 L44.82,613.84 L45.12,613.27 M46.96,610.98 L46.96,612.41 L47.26,613.27 L47.56,613.84 L48.16,614.41 L48.76,614.70 L49.96,614.70 L50.56,614.41 L51.16,613.84 L51.46,613.27 L51.76,612.41 L51.76,610.98 L51.46,610.12 L51.16,609.55 L50.56,608.98 L49.96,608.69 L48.76,608.69 L48.16,608.98 L47.56,609.55 L47.26,610.12 L46.96,610.98 M53.90,608.69 L53.90,614.70 L57.50,614.70 M58.13,614.70 L60.53,608.69 L62.93,614.70 M59.03,612.70 L62.03,612.70 M63.87,616.70 L69.27,607.55 M71.10,608.69 L71.10,614.70 M76.23,612.41 L77.73,612.41 L77.73,613.27 L77.43,613.84 L76.83,614.41 L76.23,614.70 L75.03,614.70 L74.43,614.41 L73.83,613.84 L73.53,613.27 L73.23,612.41 L73.23,610.98 L73.53,610.12 L73.83,609.55 L74.43,608.98 L75.03,608.69 L76.23,608.69 L76.83,608.98 L77.43,609.55 L77.73,610.12 M79.87,611.55 L79.87,608.69 L83.77,608.69 M79.87,611.55 L79.87,614.70 L83.77,614.70 M79.87,611.55 L82.27,611.55 M85.30,613.84 L85.90,614.41 L86.80,614.70 L88.00,614.70 L88.90,614.41 L89.50,613.84 L89.50,612.98 L89.20,612.41 L88.90,612.13 L88.30,611.84 L86.50,611.27 L85.90,610.98 L85.60,610.70 L85.30,610.12 L85.30,609.55 L85.90,608.98 L86.80,608.69 L88.00,608.69 L88.90,608.98 L89.50,609.55 M684.70,610.12 L684.70,609.84 L685.00,609.27 L685.30,608.98 L685.90,608.69 L687.10,608.69 L687.70,608.98 L688.00,609.27 L688.30,609.84 L688.30,610.41 L688.00,610.98 L687.40,611.84 L684.40,614.70 L688.60,614.70 M690.17,611.27 L690.17,612.13 L690.47,613.56 L691.07,614.41 L691.97,614.70 L692.57,614.70 L693.47,614.41 L694.07,613.56 L694.37,612.13 L694.37,611.27 L694.07,609.84 L693.47,608.98 L692.57,608.69 L691.97,608.69 L691.07,608.98 L690.47,609.84 L690.17,611.27 M696.23,610.12 L696.23,609.84 L696.53,609.27 L696.83,608.98 L697.43,608.69 L698.63,608.69 L699.23,608.98 L699.53,609.27 L699.83,609.84 L699.83,610.41 L699.53,610.98 L698.93,611.84 L695.93,614.70 L700.13,614.70 M702.62,609.84 L703.22,609.55 L704.12,608.69 L704.12,614.70 M707.73,612.13 L713.13,612.13 M714.96,611.27 L714.96,612.13 L715.26,613.56 L715.86,614.41 L716.76,614.70 L717.36,614.70 L718.26,614.41 L718.86,613.56 L719.16,612.13 L719.16,611.27 L718.86,609.84 L718.26,608.98 L717.36,608.69 L716.76,608.69 L715.86,608.98 L715.26,609.84 L714.96,611.27 M720.73,613.56 L721.03,614.13 L721.33,614.41 L722.23,614.70 L723.13,614.70 L724.03,614.41 L724.63,613.84 L724.93,612.98 L724.93,612.41 L724.63,611.55 L724.33,611.27 L723.73,610.98 L722.83,610.98 L724.63,608.69 L721.33,608.69 M726.76,612.13 L732.16,612.13 M734.29,610.12 L734.29,609.84 L734.59,609.27 L734.89,608.98 L735.49,608.69 L736.69,608.69 L737.29,608.98 L737.59,609.27 L737.89,609.84 L737.89,610.41 L737.59,610.98 L736.99,611.84 L733.99,614.70 L738.19,614.70 M739.76,612.70 L739.76,613.56 L740.06,614.13 L740.36,614.41 L741.26,614.70 L742.46,614.70 L743.36,614.41 L743.66,614.13 L743.96,613.56 L743.96,612.70 L743.66,612.13 L743.06,611.55 L742.16,611.27 L740.96,610.98 L740.36,610.70 L740.06,610.12 L740.06,609.55 L740.36,608.98 L741.26,608.69 L742.46,608.69 L743.36,608.98 L743.66,609.55 L743.66,610.12 L743.36,610.70 L742.76,610.98 L741.56,611.27 L740.66,611.55 L740.06,612.13 L739.76,612.70 M745.79,612.13 L751.19,612.13 M753.32,610.12 L753.32,609.84 L753.62,609.27 L753.92,608.98 L754.52,608.69 L755.72,608.69 L756.32,608.98 L756.62,609.27 L756.92,609.84 L756.92,610.41 L756.62,610.98 L756.02,611.84 L753.02,614.70 L757.22,614.70 M758.78,613.56 L759.08,614.13 L759.38,614.41 L760.28,614.70 L761.18,614.70 L762.08,614.41 L762.68,613.84 L762.98,612.98 L762.98,612.41 L762.68,611.55 L762.38,611.27 L761.78,610.98 L760.88,610.98 L762.68,608.69 L759.38,608.69 M764.91,610.98 L765.21,610.70 L765.51,610.98 L765.21,611.27 L764.91,610.98 M764.91,614.41 L765.21,614.13 L765.51,614.41 L765.21,614.70 L764.91,614.41 M767.43,611.27 L767.43,612.13 L767.73,613.56 L768.33,614.41 L769.23,614.70 L769.83,614.70 L770.73,614.41 L771.33,613.56 L771.63,612.13 L771.63,611.27 L771.33,609.84 L770.73,608.98 L769.83,608.69 L769.23,608.69 L768.33,608.98 L767.73,609.84 L767.43,611.27 M773.50,610.12 L773.50,609.84 L773.80,609.27 L774.10,608.98 L774.70,608.69 L775.90,608.69 L776.50,608.98 L776.80,609.27 L777.10,609.84 L777.10,610.41 L776.80,610.98 L776.20,611.84 L773.20,614.70 L777.40,614.70" fill="none" stroke="#000" stroke-width="1.2" stroke-linejoin="round" stroke-linecap="square" shape-rendering="crispEdges"/>
</svg></body></html>
